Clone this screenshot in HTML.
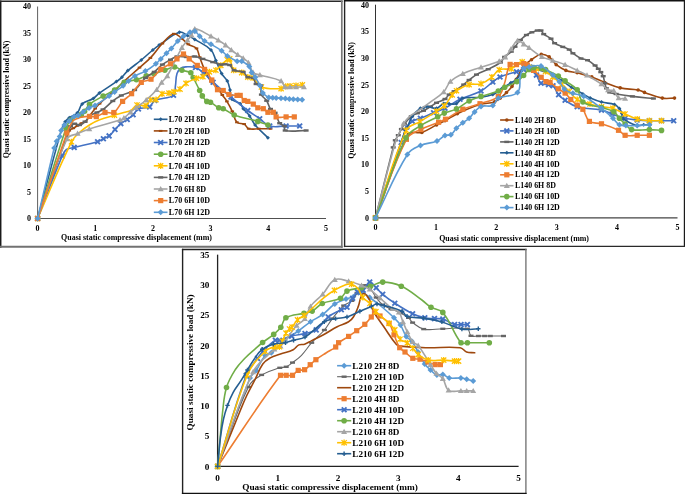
<!DOCTYPE html><html><head><meta charset="utf-8"><style>html,body{margin:0;padding:0;background:#fff;overflow:hidden;width:685px;height:494px;}svg{display:block;will-change:transform;filter:blur(0.35px);}</style></head><body><svg width="685" height="494" viewBox="0 0 685 494"><rect x="0" y="0" width="685" height="494" fill="#fff"/>
<line x1="0.7" y1="0.44999999999999996" x2="0.7" y2="247.75" stroke="#1a1a1a" stroke-width="1.5"/><line x1="-0.050000000000000044" y1="1.2" x2="342.65000000000003" y2="1.2" stroke="#2a2a2a" stroke-width="1.5"/><line x1="341.8" y1="0.44999999999999996" x2="341.8" y2="247.75" stroke="#777" stroke-width="1.7"/><line x1="-0.050000000000000044" y1="246.8" x2="342.65000000000003" y2="246.8" stroke="#727272" stroke-width="1.9"/><line x1="37.6" y1="6.5" x2="37.6" y2="218.5" stroke="#5f5f5f" stroke-width="1"/><line x1="37.6" y1="218.5" x2="326.0" y2="218.5" stroke="#505050" stroke-width="1.1"/><text x="31" y="221.3" font-size="8" text-anchor="end" font-family="Liberation Serif" font-weight="bold" fill="#000" >0</text><text x="31" y="194.8" font-size="8" text-anchor="end" font-family="Liberation Serif" font-weight="bold" fill="#000" >5</text><text x="31" y="168.3" font-size="8" text-anchor="end" font-family="Liberation Serif" font-weight="bold" fill="#000" >10</text><text x="31" y="141.8" font-size="8" text-anchor="end" font-family="Liberation Serif" font-weight="bold" fill="#000" >15</text><text x="31" y="115.3" font-size="8" text-anchor="end" font-family="Liberation Serif" font-weight="bold" fill="#000" >20</text><text x="31" y="88.8" font-size="8" text-anchor="end" font-family="Liberation Serif" font-weight="bold" fill="#000" >25</text><text x="31" y="62.3" font-size="8" text-anchor="end" font-family="Liberation Serif" font-weight="bold" fill="#000" >30</text><text x="31" y="35.8" font-size="8" text-anchor="end" font-family="Liberation Serif" font-weight="bold" fill="#000" >35</text><text x="31" y="9.3" font-size="8" text-anchor="end" font-family="Liberation Serif" font-weight="bold" fill="#000" >40</text><text x="37.6" y="230.9" font-size="8" text-anchor="middle" font-family="Liberation Serif" font-weight="bold" fill="#000" >0</text><text x="95.3" y="230.9" font-size="8" text-anchor="middle" font-family="Liberation Serif" font-weight="bold" fill="#000" >1</text><text x="153.0" y="230.9" font-size="8" text-anchor="middle" font-family="Liberation Serif" font-weight="bold" fill="#000" >2</text><text x="210.6" y="230.9" font-size="8" text-anchor="middle" font-family="Liberation Serif" font-weight="bold" fill="#000" >3</text><text x="268.3" y="230.9" font-size="8" text-anchor="middle" font-family="Liberation Serif" font-weight="bold" fill="#000" >4</text><text x="326.0" y="230.9" font-size="8" text-anchor="middle" font-family="Liberation Serif" font-weight="bold" fill="#000" >5</text><text x="136.5" y="240.0" font-size="8" text-anchor="middle" font-family="Liberation Serif" font-weight="bold" fill="#000" textLength="151" lengthAdjust="spacingAndGlyphs">Quasi static compressive displacement (mm)</text><g transform="translate(9.3,99.4) rotate(-90)"><text x="0" y="0" font-size="8" text-anchor="middle" font-family="Liberation Serif" font-weight="bold" fill="#000" textLength="117.5" lengthAdjust="spacingAndGlyphs">Quasi static compressive load (kN)</text></g><path d="M37.6,218.5 C47.0,183.3 51.2,165.6 61.2,130.6 C62.3,126.9 63.2,125.0 65.2,121.7 C66.4,119.8 67.5,119.0 69.3,117.7 C72.3,115.5 74.9,115.5 77.4,112.8 C80.1,109.9 79.3,106.5 82.2,103.9 C85.7,100.8 89.2,101.1 93.3,98.5 C96.0,96.8 96.8,95.0 99.4,93.1 C106.0,88.3 109.7,86.3 116.4,81.6 C118.7,80.0 119.9,79.2 121.9,77.3 C124.5,74.8 125.2,73.0 127.9,70.6 C133.0,66.1 136.0,64.4 141.3,60.0 C146.0,56.1 148.1,53.9 152.8,50.0 C155.3,47.9 156.5,46.9 159.2,45.1 C167.2,39.8 171.1,35.0 179.4,32.2 C182.4,31.2 184.4,33.9 187.5,35.4 C190.5,36.8 192.0,37.6 194.8,39.4 C201.4,43.5 205.7,44.7 211.0,50.0 C214.2,53.2 214.0,56.3 215.9,60.5 C218.2,65.7 218.9,68.6 221.6,73.5 C223.4,76.8 225.6,77.7 227.3,81.0 C229.0,84.3 229.1,86.4 230.0,90.0 C230.9,93.6 230.0,96.5 232.0,99.2 C234.0,101.9 237.4,101.4 240.2,103.7 C241.9,105.2 241.9,106.8 243.3,108.7 C245.6,111.7 247.4,112.8 249.6,115.9 C252.1,119.3 252.4,121.8 255.1,125.0 C259.7,130.5 262.8,132.7 267.9,137.8" stroke="#255E91" stroke-width="1.6" fill="none" stroke-linejoin="round" stroke-linecap="round"/><path d="M37.6,216.5 L39.6,218.5 L37.6,220.5 L35.6,218.5Z" fill="#255E91"/><path d="M61.2,128.6 L63.2,130.6 L61.2,132.6 L59.2,130.6Z" fill="#255E91"/><path d="M65.2,119.7 L67.2,121.7 L65.2,123.7 L63.2,121.7Z" fill="#255E91"/><path d="M69.3,115.7 L71.3,117.7 L69.3,119.7 L67.3,117.7Z" fill="#255E91"/><path d="M77.4,110.8 L79.4,112.8 L77.4,114.8 L75.4,112.8Z" fill="#255E91"/><path d="M82.2,101.9 L84.2,103.9 L82.2,105.9 L80.2,103.9Z" fill="#255E91"/><path d="M93.3,96.5 L95.3,98.5 L93.3,100.5 L91.3,98.5Z" fill="#255E91"/><path d="M99.4,91.1 L101.4,93.1 L99.4,95.1 L97.4,93.1Z" fill="#255E91"/><path d="M116.4,79.6 L118.4,81.6 L116.4,83.6 L114.4,81.6Z" fill="#255E91"/><path d="M121.9,75.3 L123.9,77.3 L121.9,79.3 L119.9,77.3Z" fill="#255E91"/><path d="M127.9,68.6 L129.9,70.6 L127.9,72.6 L125.9,70.6Z" fill="#255E91"/><path d="M141.3,58.0 L143.3,60.0 L141.3,62.0 L139.3,60.0Z" fill="#255E91"/><path d="M152.8,48.0 L154.8,50.0 L152.8,52.0 L150.8,50.0Z" fill="#255E91"/><path d="M159.2,43.1 L161.2,45.1 L159.2,47.1 L157.2,45.1Z" fill="#255E91"/><path d="M179.4,30.2 L181.4,32.2 L179.4,34.2 L177.4,32.2Z" fill="#255E91"/><path d="M187.5,33.4 L189.5,35.4 L187.5,37.4 L185.5,35.4Z" fill="#255E91"/><path d="M194.8,37.4 L196.8,39.4 L194.8,41.4 L192.8,39.4Z" fill="#255E91"/><path d="M211.0,48.0 L213.0,50.0 L211.0,52.0 L209.0,50.0Z" fill="#255E91"/><path d="M215.9,58.5 L217.9,60.5 L215.9,62.5 L213.9,60.5Z" fill="#255E91"/><path d="M221.6,71.5 L223.6,73.5 L221.6,75.5 L219.6,73.5Z" fill="#255E91"/><path d="M227.3,79.0 L229.3,81.0 L227.3,83.0 L225.3,81.0Z" fill="#255E91"/><path d="M230.0,88.0 L232.0,90.0 L230.0,92.0 L228.0,90.0Z" fill="#255E91"/><path d="M232.0,97.2 L234.0,99.2 L232.0,101.2 L230.0,99.2Z" fill="#255E91"/><path d="M240.2,101.7 L242.2,103.7 L240.2,105.7 L238.2,103.7Z" fill="#255E91"/><path d="M243.3,106.7 L245.3,108.7 L243.3,110.7 L241.3,108.7Z" fill="#255E91"/><path d="M249.6,113.9 L251.6,115.9 L249.6,117.9 L247.6,115.9Z" fill="#255E91"/><path d="M255.1,123.0 L257.1,125.0 L255.1,127.0 L253.1,125.0Z" fill="#255E91"/><path d="M267.9,135.8 L269.9,137.8 L267.9,139.8 L265.9,137.8Z" fill="#255E91"/><path d="M37.6,218.5 C50.3,183.3 55.7,165.0 69.3,130.6 C70.0,128.9 71.7,129.2 73.3,128.2 C74.9,127.2 75.8,126.7 77.4,125.7 C79.0,124.7 79.7,124.1 81.4,123.3 C83.0,122.5 84.2,122.8 85.5,121.7 C87.5,119.9 87.9,118.2 89.5,116.0 C91.7,113.0 92.8,111.4 95.2,108.5 C96.9,106.5 97.7,105.4 99.6,103.6 C106.2,97.5 109.8,94.8 116.4,88.8 C119.4,86.0 120.7,84.4 123.7,81.6 C129.9,75.9 133.2,73.2 139.5,67.6 C143.9,63.7 146.4,62.1 150.4,57.9 C155.6,52.5 157.2,48.9 162.4,43.5 C166.6,39.2 169.0,35.0 173.8,33.8 C176.8,33.0 178.9,36.4 181.9,38.6 C184.7,40.6 185.5,42.4 188.3,44.3 C191.3,46.3 194.3,45.8 196.5,48.4 C198.8,51.0 198.3,53.8 199.7,57.3 C202.2,63.8 203.3,67.2 206.2,73.5 C207.8,76.9 208.7,78.7 211.0,81.6 C213.2,84.5 215.2,85.2 217.5,88.0 C219.7,90.6 220.4,92.2 222.3,95.0 C224.1,97.6 225.3,98.7 226.9,101.4 C229.3,105.3 230.3,107.3 232.3,111.4 C234.3,115.7 234.0,119.2 236.9,122.3 C238.7,124.3 241.7,122.7 244.2,124.1 C246.4,125.3 246.4,128.0 248.7,128.7 C252.3,129.8 254.8,128.7 258.8,128.7 C263.5,128.7 265.9,128.7 270.6,128.7" stroke="#9E480E" stroke-width="1.6" fill="none" stroke-linejoin="round" stroke-linecap="round"/><rect x="35.8" y="217.5" width="3.6" height="2.0" fill="#9E480E"/><rect x="67.5" y="129.6" width="3.6" height="2.0" fill="#9E480E"/><rect x="71.5" y="127.2" width="3.6" height="2.0" fill="#9E480E"/><rect x="75.6" y="124.7" width="3.6" height="2.0" fill="#9E480E"/><rect x="79.6" y="122.3" width="3.6" height="2.0" fill="#9E480E"/><rect x="83.7" y="120.7" width="3.6" height="2.0" fill="#9E480E"/><rect x="87.7" y="115.0" width="3.6" height="2.0" fill="#9E480E"/><rect x="93.4" y="107.5" width="3.6" height="2.0" fill="#9E480E"/><rect x="97.8" y="102.6" width="3.6" height="2.0" fill="#9E480E"/><rect x="114.6" y="87.8" width="3.6" height="2.0" fill="#9E480E"/><rect x="121.9" y="80.6" width="3.6" height="2.0" fill="#9E480E"/><rect x="137.7" y="66.6" width="3.6" height="2.0" fill="#9E480E"/><rect x="148.6" y="56.9" width="3.6" height="2.0" fill="#9E480E"/><rect x="160.6" y="42.5" width="3.6" height="2.0" fill="#9E480E"/><rect x="172.0" y="32.8" width="3.6" height="2.0" fill="#9E480E"/><rect x="180.1" y="37.6" width="3.6" height="2.0" fill="#9E480E"/><rect x="186.5" y="43.3" width="3.6" height="2.0" fill="#9E480E"/><rect x="194.7" y="47.4" width="3.6" height="2.0" fill="#9E480E"/><rect x="197.9" y="56.3" width="3.6" height="2.0" fill="#9E480E"/><rect x="204.4" y="72.5" width="3.6" height="2.0" fill="#9E480E"/><rect x="209.2" y="80.6" width="3.6" height="2.0" fill="#9E480E"/><rect x="215.7" y="87.0" width="3.6" height="2.0" fill="#9E480E"/><rect x="220.5" y="94.0" width="3.6" height="2.0" fill="#9E480E"/><rect x="225.1" y="100.4" width="3.6" height="2.0" fill="#9E480E"/><rect x="230.5" y="110.4" width="3.6" height="2.0" fill="#9E480E"/><rect x="235.1" y="121.3" width="3.6" height="2.0" fill="#9E480E"/><rect x="242.4" y="123.1" width="3.6" height="2.0" fill="#9E480E"/><rect x="246.9" y="127.7" width="3.6" height="2.0" fill="#9E480E"/><rect x="257.0" y="127.7" width="3.6" height="2.0" fill="#9E480E"/><rect x="268.8" y="127.7" width="3.6" height="2.0" fill="#9E480E"/><path d="M37.6,218.5 C47.4,193.5 51.9,180.7 62.2,155.9 C63.4,153.1 64.1,151.2 66.4,149.5 C68.9,147.8 71.1,148.2 74.2,147.4 C83.5,145.1 88.4,144.4 97.6,141.7 C100.1,141.0 101.1,139.9 103.4,138.7 C105.7,137.6 107.1,137.5 109.1,135.9 C111.8,133.8 112.6,132.0 115.0,129.5 C117.3,127.1 118.3,125.7 120.8,123.6 C123.1,121.7 124.7,121.3 127.2,119.5 C129.7,117.7 130.9,116.9 133.1,114.8 C135.4,112.6 135.7,110.2 138.4,108.9 C142.3,107.0 145.8,108.9 149.6,106.9 C152.4,105.5 151.9,101.8 154.8,100.4 C161.5,97.2 168.0,99.2 173.5,95.3 C176.2,93.4 174.8,89.7 175.4,86.0 C176.2,81.0 175.6,78.2 177.0,73.5 C177.7,71.2 178.6,69.9 180.5,68.5 C182.2,67.2 183.7,67.1 186.0,66.9 C189.7,66.7 192.0,66.3 195.5,67.5 C199.0,68.7 200.5,70.5 203.4,73.0 C207.5,76.4 209.2,78.6 213.1,82.2 C216.6,85.4 218.4,87.0 222.0,90.0 C225.5,92.9 227.4,94.2 231.0,97.0 C237.7,102.4 240.9,105.3 247.8,110.5 C252.4,114.0 255.0,115.4 259.7,118.7 C263.7,121.6 265.2,124.7 269.7,126.0 C275.7,127.7 279.5,126.0 286.1,126.0 C291.5,126.0 294.3,126.0 299.7,126.0" stroke="#4472C4" stroke-width="1.6" fill="none" stroke-linejoin="round" stroke-linecap="round"/><path d="M35.2,216.1 L40.0,220.9 M40.0,216.1 L35.2,220.9" stroke="#4472C4" stroke-width="1.9" fill="none"/><path d="M59.8,153.5 L64.6,158.3 M64.6,153.5 L59.8,158.3" stroke="#4472C4" stroke-width="1.9" fill="none"/><path d="M71.8,145.0 L76.6,149.8 M76.6,145.0 L71.8,149.8" stroke="#4472C4" stroke-width="1.9" fill="none"/><path d="M95.2,139.3 L100.0,144.1 M100.0,139.3 L95.2,144.1" stroke="#4472C4" stroke-width="1.9" fill="none"/><path d="M101.0,136.3 L105.8,141.1 M105.8,136.3 L101.0,141.1" stroke="#4472C4" stroke-width="1.9" fill="none"/><path d="M106.7,133.5 L111.5,138.3 M111.5,133.5 L106.7,138.3" stroke="#4472C4" stroke-width="1.9" fill="none"/><path d="M112.6,127.1 L117.4,131.9 M117.4,127.1 L112.6,131.9" stroke="#4472C4" stroke-width="1.9" fill="none"/><path d="M118.4,121.2 L123.2,126.0 M123.2,121.2 L118.4,126.0" stroke="#4472C4" stroke-width="1.9" fill="none"/><path d="M124.8,117.1 L129.6,121.9 M129.6,117.1 L124.8,121.9" stroke="#4472C4" stroke-width="1.9" fill="none"/><path d="M130.7,112.4 L135.5,117.2 M135.5,112.4 L130.7,117.2" stroke="#4472C4" stroke-width="1.9" fill="none"/><path d="M136.0,106.5 L140.8,111.3 M140.8,106.5 L136.0,111.3" stroke="#4472C4" stroke-width="1.9" fill="none"/><path d="M147.2,104.5 L152.0,109.3 M152.0,104.5 L147.2,109.3" stroke="#4472C4" stroke-width="1.9" fill="none"/><path d="M152.4,98.0 L157.2,102.8 M157.2,98.0 L152.4,102.8" stroke="#4472C4" stroke-width="1.9" fill="none"/><path d="M171.1,92.9 L175.9,97.7 M175.9,92.9 L171.1,97.7" stroke="#4472C4" stroke-width="1.9" fill="none"/><path d="M193.1,65.1 L197.9,69.9 M197.9,65.1 L193.1,69.9" stroke="#4472C4" stroke-width="1.9" fill="none"/><path d="M201.0,70.6 L205.8,75.4 M205.8,70.6 L201.0,75.4" stroke="#4472C4" stroke-width="1.9" fill="none"/><path d="M210.7,79.8 L215.5,84.6 M215.5,79.8 L210.7,84.6" stroke="#4472C4" stroke-width="1.9" fill="none"/><path d="M228.6,94.6 L233.4,99.4 M233.4,94.6 L228.6,99.4" stroke="#4472C4" stroke-width="1.9" fill="none"/><path d="M245.4,108.1 L250.2,112.9 M250.2,108.1 L245.4,112.9" stroke="#4472C4" stroke-width="1.9" fill="none"/><path d="M257.3,116.3 L262.1,121.1 M262.1,116.3 L257.3,121.1" stroke="#4472C4" stroke-width="1.9" fill="none"/><path d="M267.3,123.6 L272.1,128.4 M272.1,123.6 L267.3,128.4" stroke="#4472C4" stroke-width="1.9" fill="none"/><path d="M283.7,123.6 L288.5,128.4 M288.5,123.6 L283.7,128.4" stroke="#4472C4" stroke-width="1.9" fill="none"/><path d="M297.3,123.6 L302.1,128.4 M302.1,123.6 L297.3,128.4" stroke="#4472C4" stroke-width="1.9" fill="none"/><path d="M37.6,218.5 C49.0,182.4 53.9,164.0 66.0,128.2 C67.2,124.6 68.2,122.5 70.9,120.1 C74.3,117.0 77.4,117.0 81.4,114.4 C82.9,113.4 83.5,112.6 84.6,111.2 C86.7,108.6 86.9,106.4 89.5,104.3 C94.3,100.4 97.6,99.2 103.1,96.1 C107.6,93.5 110.3,92.8 114.6,90.0 C118.7,87.3 119.9,84.3 124.3,82.2 C128.6,80.1 131.7,81.1 136.4,79.7 C140.4,78.5 142.2,77.3 146.2,75.9 C149.3,74.9 150.9,74.6 154.0,73.7 C158.3,72.4 160.5,71.6 164.8,70.2 C168.7,68.9 170.7,67.0 174.6,67.0 C177.6,67.0 178.9,69.1 181.9,70.2 C185.4,71.4 187.9,70.9 190.8,72.7 C192.5,73.8 192.2,75.6 193.2,77.5 C195.8,82.7 197.1,85.3 199.7,90.5 C200.8,92.6 201.0,93.9 202.3,95.9 C203.8,98.3 204.7,99.7 206.8,101.4 C207.9,102.3 209.2,101.6 210.5,102.3 C213.9,104.1 215.2,106.1 218.7,107.8 C220.3,108.6 221.6,107.9 223.2,108.7 C227.8,110.8 229.5,113.3 234.2,115.0 C243.3,118.3 248.4,118.6 257.8,121.4 C261.9,122.6 263.9,123.6 267.9,125.0" stroke="#70AD47" stroke-width="1.6" fill="none" stroke-linejoin="round" stroke-linecap="round"/><circle cx="37.6" cy="218.5" r="2.8" fill="#70AD47"/><circle cx="66.0" cy="128.2" r="2.8" fill="#70AD47"/><circle cx="70.9" cy="120.1" r="2.8" fill="#70AD47"/><circle cx="81.4" cy="114.4" r="2.8" fill="#70AD47"/><circle cx="84.6" cy="111.2" r="2.8" fill="#70AD47"/><circle cx="89.5" cy="104.3" r="2.8" fill="#70AD47"/><circle cx="103.1" cy="96.1" r="2.8" fill="#70AD47"/><circle cx="114.6" cy="90.0" r="2.8" fill="#70AD47"/><circle cx="124.3" cy="82.2" r="2.8" fill="#70AD47"/><circle cx="136.4" cy="79.7" r="2.8" fill="#70AD47"/><circle cx="146.2" cy="75.9" r="2.8" fill="#70AD47"/><circle cx="154.0" cy="73.7" r="2.8" fill="#70AD47"/><circle cx="164.8" cy="70.2" r="2.8" fill="#70AD47"/><circle cx="174.6" cy="67.0" r="2.8" fill="#70AD47"/><circle cx="181.9" cy="70.2" r="2.8" fill="#70AD47"/><circle cx="190.8" cy="72.7" r="2.8" fill="#70AD47"/><circle cx="193.2" cy="77.5" r="2.8" fill="#70AD47"/><circle cx="199.7" cy="90.5" r="2.8" fill="#70AD47"/><circle cx="202.3" cy="95.9" r="2.8" fill="#70AD47"/><circle cx="206.8" cy="101.4" r="2.8" fill="#70AD47"/><circle cx="210.5" cy="102.3" r="2.8" fill="#70AD47"/><circle cx="218.7" cy="107.8" r="2.8" fill="#70AD47"/><circle cx="223.2" cy="108.7" r="2.8" fill="#70AD47"/><circle cx="234.2" cy="115.0" r="2.8" fill="#70AD47"/><circle cx="257.8" cy="121.4" r="2.8" fill="#70AD47"/><circle cx="267.9" cy="125.0" r="2.8" fill="#70AD47"/><path d="M37.6,218.5 C51.2,187.8 56.8,171.8 71.5,141.8 C73.8,137.2 76.2,135.5 80.0,132.0 C83.6,128.7 85.7,127.3 89.8,124.7 C93.5,122.4 95.6,121.4 99.7,119.8 C105.4,117.6 108.5,117.0 114.4,115.2 C119.0,113.8 121.4,113.3 126.0,112.0 C128.0,111.4 129.3,111.6 131.0,110.5 C133.7,108.8 134.2,105.9 137.0,105.0 C140.2,104.0 143.1,106.8 146.0,105.6 C148.4,104.7 148.0,101.0 150.2,99.7 C152.0,98.7 154.1,100.7 156.0,99.7 C158.8,98.3 159.2,95.2 162.0,93.8 C164.4,92.6 166.2,93.6 169.0,93.1 C171.0,92.8 172.1,92.5 174.0,91.8 C176.5,90.9 177.9,90.7 180.0,89.2 C182.7,87.3 183.2,85.1 186.0,83.3 C189.8,80.8 192.2,80.0 196.5,78.3 C198.9,77.3 200.6,77.9 202.9,76.7 C205.7,75.3 206.6,73.3 209.4,71.9 C211.8,70.7 213.6,71.5 215.9,70.2 C218.2,68.9 218.8,67.3 220.8,65.4 C223.3,63.1 224.5,61.7 227.2,59.7 C228.0,59.1 229.2,58.1 229.7,58.9 C231.8,62.3 230.9,67.0 233.7,70.2 C235.7,72.5 238.8,71.1 241.7,72.6 C244.4,73.9 245.1,76.0 247.8,77.2 C249.7,78.1 251.5,76.7 253.1,77.9 C256.9,80.6 257.1,85.4 261.4,87.0 C268.3,89.6 273.4,88.8 281.1,88.6 C283.1,88.5 283.8,86.9 285.7,86.3 C287.3,85.8 288.3,86.1 290.0,86.0 C292.4,85.8 293.6,85.7 296.0,85.5 C298.6,85.3 299.8,85.1 302.4,84.8" stroke="#FFC000" stroke-width="1.6" fill="none" stroke-linejoin="round" stroke-linecap="round"/><path d="M35.0,215.9 L40.2,221.1 M40.2,215.9 L35.0,221.1 M37.6,215.4 L37.6,221.6" stroke="#FFC000" stroke-width="1.3" fill="none"/><path d="M68.9,139.2 L74.1,144.4 M74.1,139.2 L68.9,144.4 M71.5,138.7 L71.5,144.9" stroke="#FFC000" stroke-width="1.3" fill="none"/><path d="M111.8,112.6 L117.0,117.8 M117.0,112.6 L111.8,117.8 M114.4,112.1 L114.4,118.3" stroke="#FFC000" stroke-width="1.3" fill="none"/><path d="M134.4,102.4 L139.6,107.6 M139.6,102.4 L134.4,107.6 M137.0,101.9 L137.0,108.1" stroke="#FFC000" stroke-width="1.3" fill="none"/><path d="M143.4,103.0 L148.6,108.2 M148.6,103.0 L143.4,108.2 M146.0,102.5 L146.0,108.7" stroke="#FFC000" stroke-width="1.3" fill="none"/><path d="M147.6,97.1 L152.8,102.3 M152.8,97.1 L147.6,102.3 M150.2,96.6 L150.2,102.8" stroke="#FFC000" stroke-width="1.3" fill="none"/><path d="M153.4,97.1 L158.6,102.3 M158.6,97.1 L153.4,102.3 M156.0,96.6 L156.0,102.8" stroke="#FFC000" stroke-width="1.3" fill="none"/><path d="M159.4,91.2 L164.6,96.4 M164.6,91.2 L159.4,96.4 M162.0,90.7 L162.0,96.9" stroke="#FFC000" stroke-width="1.3" fill="none"/><path d="M166.4,90.5 L171.6,95.7 M171.6,90.5 L166.4,95.7 M169.0,90.0 L169.0,96.2" stroke="#FFC000" stroke-width="1.3" fill="none"/><path d="M171.4,89.2 L176.6,94.4 M176.6,89.2 L171.4,94.4 M174.0,88.7 L174.0,94.9" stroke="#FFC000" stroke-width="1.3" fill="none"/><path d="M177.4,86.6 L182.6,91.8 M182.6,86.6 L177.4,91.8 M180.0,86.1 L180.0,92.3" stroke="#FFC000" stroke-width="1.3" fill="none"/><path d="M183.4,80.7 L188.6,85.9 M188.6,80.7 L183.4,85.9 M186.0,80.2 L186.0,86.4" stroke="#FFC000" stroke-width="1.3" fill="none"/><path d="M193.9,75.7 L199.1,80.9 M199.1,75.7 L193.9,80.9 M196.5,75.2 L196.5,81.4" stroke="#FFC000" stroke-width="1.3" fill="none"/><path d="M200.3,74.1 L205.5,79.3 M205.5,74.1 L200.3,79.3 M202.9,73.6 L202.9,79.8" stroke="#FFC000" stroke-width="1.3" fill="none"/><path d="M206.8,69.3 L212.0,74.5 M212.0,69.3 L206.8,74.5 M209.4,68.8 L209.4,75.0" stroke="#FFC000" stroke-width="1.3" fill="none"/><path d="M213.3,67.6 L218.5,72.8 M218.5,67.6 L213.3,72.8 M215.9,67.1 L215.9,73.3" stroke="#FFC000" stroke-width="1.3" fill="none"/><path d="M218.2,62.8 L223.4,68.0 M223.4,62.8 L218.2,68.0 M220.8,62.3 L220.8,68.5" stroke="#FFC000" stroke-width="1.3" fill="none"/><path d="M224.6,57.1 L229.8,62.3 M229.8,57.1 L224.6,62.3 M227.2,56.6 L227.2,62.8" stroke="#FFC000" stroke-width="1.3" fill="none"/><path d="M227.1,56.3 L232.3,61.5 M232.3,56.3 L227.1,61.5 M229.7,55.8 L229.7,62.0" stroke="#FFC000" stroke-width="1.3" fill="none"/><path d="M231.1,67.6 L236.3,72.8 M236.3,67.6 L231.1,72.8 M233.7,67.1 L233.7,73.3" stroke="#FFC000" stroke-width="1.3" fill="none"/><path d="M239.1,70.0 L244.3,75.2 M244.3,70.0 L239.1,75.2 M241.7,69.5 L241.7,75.7" stroke="#FFC000" stroke-width="1.3" fill="none"/><path d="M245.2,74.6 L250.4,79.8 M250.4,74.6 L245.2,79.8 M247.8,74.1 L247.8,80.3" stroke="#FFC000" stroke-width="1.3" fill="none"/><path d="M250.5,75.3 L255.7,80.5 M255.7,75.3 L250.5,80.5 M253.1,74.8 L253.1,81.0" stroke="#FFC000" stroke-width="1.3" fill="none"/><path d="M258.8,84.4 L264.0,89.6 M264.0,84.4 L258.8,89.6 M261.4,83.9 L261.4,90.1" stroke="#FFC000" stroke-width="1.3" fill="none"/><path d="M278.5,86.0 L283.7,91.2 M283.7,86.0 L278.5,91.2 M281.1,85.5 L281.1,91.7" stroke="#FFC000" stroke-width="1.3" fill="none"/><path d="M283.1,83.7 L288.3,88.9 M288.3,83.7 L283.1,88.9 M285.7,83.2 L285.7,89.4" stroke="#FFC000" stroke-width="1.3" fill="none"/><path d="M287.4,83.4 L292.6,88.6 M292.6,83.4 L287.4,88.6 M290.0,82.9 L290.0,89.1" stroke="#FFC000" stroke-width="1.3" fill="none"/><path d="M293.4,82.9 L298.6,88.1 M298.6,82.9 L293.4,88.1 M296.0,82.4 L296.0,88.6" stroke="#FFC000" stroke-width="1.3" fill="none"/><path d="M299.8,82.2 L305.0,87.4 M305.0,82.2 L299.8,87.4 M302.4,81.7 L302.4,87.9" stroke="#FFC000" stroke-width="1.3" fill="none"/><path d="M37.6,218.5 C50.8,181.6 56.5,162.4 70.6,126.2 C71.3,124.5 72.9,123.9 74.6,123.7 C76.4,123.5 77.7,125.4 79.5,125.0 C81.8,124.6 83.1,123.4 85.0,121.7 C87.4,119.6 87.8,117.4 90.3,115.5 C92.5,113.8 94.3,113.7 96.9,112.5 C99.4,111.3 100.8,111.1 103.0,109.5 C107.2,106.5 108.7,104.1 112.8,101.0 C116.0,98.5 117.7,97.3 121.3,95.5 C126.4,92.9 130.1,93.3 134.6,90.0 C139.7,86.3 140.7,82.3 145.5,77.9 C148.6,75.0 151.0,74.5 154.3,71.9 C157.7,69.2 158.9,67.2 162.4,64.6 C165.4,62.3 167.2,61.5 170.5,59.7 C173.0,58.3 174.2,57.0 177.0,56.5 C180.7,55.9 182.8,57.0 186.7,57.0 C189.9,57.0 191.6,56.1 194.8,56.5 C198.1,56.9 199.7,57.9 202.9,58.9 C206.8,60.1 208.8,60.8 212.7,62.1 C215.9,63.1 217.5,64.0 220.8,64.6 C222.4,64.9 223.3,64.2 225.0,64.3 C226.8,64.4 228.1,64.0 229.6,65.0 C231.8,66.4 231.8,69.1 234.1,70.3 C237.2,71.9 240.1,70.3 243.2,71.9 C245.6,73.1 245.6,75.8 247.8,77.2 C249.5,78.2 251.6,76.7 253.1,77.9 C255.0,79.4 254.3,82.2 256.1,84.0 C257.4,85.3 260.0,84.0 260.7,85.5 C262.1,88.3 260.1,91.4 261.4,94.6 C262.5,97.5 265.0,98.0 266.7,100.7 C268.6,103.8 268.5,106.1 270.5,109.0 C271.8,110.9 273.8,110.8 275.1,112.8 C277.5,116.5 277.2,119.6 279.7,123.2 C280.9,124.9 283.1,124.4 284.3,126.0 C285.3,127.3 283.6,130.2 285.2,130.5 C292.4,132.0 297.7,130.5 306.1,130.5" stroke="#636363" stroke-width="1.6" fill="none" stroke-linejoin="round" stroke-linecap="round"/><rect x="35.1" y="217.3" width="5.0" height="2.4" fill="#636363"/><rect x="68.1" y="125.0" width="5.0" height="2.4" fill="#636363"/><rect x="72.1" y="122.5" width="5.0" height="2.4" fill="#636363"/><rect x="77.0" y="123.8" width="5.0" height="2.4" fill="#636363"/><rect x="82.5" y="120.5" width="5.0" height="2.4" fill="#636363"/><rect x="94.4" y="111.3" width="5.0" height="2.4" fill="#636363"/><rect x="100.5" y="108.3" width="5.0" height="2.4" fill="#636363"/><rect x="110.3" y="99.8" width="5.0" height="2.4" fill="#636363"/><rect x="118.8" y="94.3" width="5.0" height="2.4" fill="#636363"/><rect x="132.1" y="88.8" width="5.0" height="2.4" fill="#636363"/><rect x="143.0" y="76.7" width="5.0" height="2.4" fill="#636363"/><rect x="151.8" y="70.7" width="5.0" height="2.4" fill="#636363"/><rect x="159.9" y="63.4" width="5.0" height="2.4" fill="#636363"/><rect x="168.0" y="58.5" width="5.0" height="2.4" fill="#636363"/><rect x="174.5" y="55.3" width="5.0" height="2.4" fill="#636363"/><rect x="184.2" y="55.8" width="5.0" height="2.4" fill="#636363"/><rect x="192.3" y="55.3" width="5.0" height="2.4" fill="#636363"/><rect x="200.4" y="57.7" width="5.0" height="2.4" fill="#636363"/><rect x="210.2" y="60.9" width="5.0" height="2.4" fill="#636363"/><rect x="218.3" y="63.4" width="5.0" height="2.4" fill="#636363"/><rect x="222.5" y="63.1" width="5.0" height="2.4" fill="#636363"/><rect x="227.1" y="63.8" width="5.0" height="2.4" fill="#636363"/><rect x="231.6" y="69.1" width="5.0" height="2.4" fill="#636363"/><rect x="240.7" y="70.7" width="5.0" height="2.4" fill="#636363"/><rect x="245.3" y="76.0" width="5.0" height="2.4" fill="#636363"/><rect x="250.6" y="76.7" width="5.0" height="2.4" fill="#636363"/><rect x="253.6" y="82.8" width="5.0" height="2.4" fill="#636363"/><rect x="258.2" y="84.3" width="5.0" height="2.4" fill="#636363"/><rect x="258.9" y="93.4" width="5.0" height="2.4" fill="#636363"/><rect x="264.2" y="99.5" width="5.0" height="2.4" fill="#636363"/><rect x="268.0" y="107.8" width="5.0" height="2.4" fill="#636363"/><rect x="272.6" y="111.6" width="5.0" height="2.4" fill="#636363"/><rect x="277.2" y="122.0" width="5.0" height="2.4" fill="#636363"/><rect x="281.8" y="124.8" width="5.0" height="2.4" fill="#636363"/><rect x="282.7" y="129.3" width="5.0" height="2.4" fill="#636363"/><rect x="303.6" y="129.3" width="5.0" height="2.4" fill="#636363"/><path d="M37.6,218.5 C49.4,186.7 53.0,168.8 67.0,139.0 C69.0,134.8 73.3,135.5 77.6,133.5 C82.2,131.4 84.5,130.4 89.3,128.9 C101.5,125.1 107.8,123.9 120.0,120.1 C121.7,119.6 122.5,119.1 123.9,118.1 C126.7,116.0 127.8,114.5 130.5,112.2 C132.6,110.4 133.8,109.5 136.0,107.8 C140.1,104.6 142.3,103.4 146.2,100.0 C150.6,96.1 152.8,94.1 156.7,89.7 C159.0,87.1 159.5,85.2 161.6,82.4 C163.7,79.7 165.6,78.9 167.3,75.9 C173.7,65.0 175.6,58.6 181.9,47.6 C183.7,44.4 185.2,43.2 187.5,40.3 C189.1,38.3 190.2,37.5 191.6,35.4 C193.2,33.0 192.6,28.8 194.8,28.9 C200.3,29.1 204.6,33.1 211.0,36.2 C214.0,37.7 215.4,38.6 218.3,40.3 C221.3,42.1 222.8,43.0 225.6,45.1 C228.0,46.9 228.9,48.1 231.3,50.0 C233.8,52.0 235.1,53.0 237.8,54.8 C239.9,56.2 241.2,56.7 243.2,58.2 C245.4,59.9 246.9,60.5 248.5,62.8 C250.9,66.3 250.4,69.7 253.1,72.6 C254.9,74.5 257.2,74.1 259.9,74.9 C268.4,77.4 273.5,77.3 281.1,81.0 C283.5,82.2 282.8,85.6 284.9,87.0 C286.4,88.0 288.0,87.0 290.0,87.0 C292.4,87.0 293.6,87.0 296.0,87.0 C299.2,87.0 300.7,87.0 303.9,87.0" stroke="#A5A5A5" stroke-width="1.6" fill="none" stroke-linejoin="round" stroke-linecap="round"/><path d="M37.6,215.5 L40.6,220.8 L34.6,220.8Z" fill="#A5A5A5"/><path d="M67.0,136.0 L70.0,141.2 L64.0,141.2Z" fill="#A5A5A5"/><path d="M77.6,130.5 L80.6,135.8 L74.6,135.8Z" fill="#A5A5A5"/><path d="M89.3,125.9 L92.3,131.2 L86.3,131.2Z" fill="#A5A5A5"/><path d="M120.0,117.1 L123.0,122.3 L117.0,122.3Z" fill="#A5A5A5"/><path d="M123.9,115.1 L126.9,120.3 L120.9,120.3Z" fill="#A5A5A5"/><path d="M130.5,109.2 L133.5,114.5 L127.5,114.5Z" fill="#A5A5A5"/><path d="M136.0,104.8 L139.0,110.0 L133.0,110.0Z" fill="#A5A5A5"/><path d="M146.2,97.0 L149.2,102.2 L143.2,102.2Z" fill="#A5A5A5"/><path d="M156.7,86.7 L159.7,92.0 L153.7,92.0Z" fill="#A5A5A5"/><path d="M161.6,79.4 L164.6,84.7 L158.6,84.7Z" fill="#A5A5A5"/><path d="M167.3,72.9 L170.3,78.2 L164.3,78.2Z" fill="#A5A5A5"/><path d="M181.9,44.6 L184.9,49.9 L178.9,49.9Z" fill="#A5A5A5"/><path d="M187.5,37.3 L190.5,42.5 L184.5,42.5Z" fill="#A5A5A5"/><path d="M191.6,32.4 L194.6,37.6 L188.6,37.6Z" fill="#A5A5A5"/><path d="M194.8,25.9 L197.8,31.1 L191.8,31.1Z" fill="#A5A5A5"/><path d="M211.0,33.2 L214.0,38.5 L208.0,38.5Z" fill="#A5A5A5"/><path d="M218.3,37.3 L221.3,42.5 L215.3,42.5Z" fill="#A5A5A5"/><path d="M225.6,42.1 L228.6,47.4 L222.6,47.4Z" fill="#A5A5A5"/><path d="M231.3,47.0 L234.3,52.2 L228.3,52.2Z" fill="#A5A5A5"/><path d="M237.8,51.8 L240.8,57.0 L234.8,57.0Z" fill="#A5A5A5"/><path d="M243.2,55.2 L246.2,60.5 L240.2,60.5Z" fill="#A5A5A5"/><path d="M248.5,59.8 L251.5,65.0 L245.5,65.0Z" fill="#A5A5A5"/><path d="M253.1,69.6 L256.1,74.8 L250.1,74.8Z" fill="#A5A5A5"/><path d="M259.9,71.9 L262.9,77.2 L256.9,77.2Z" fill="#A5A5A5"/><path d="M281.1,78.0 L284.1,83.2 L278.1,83.2Z" fill="#A5A5A5"/><path d="M284.9,84.0 L287.9,89.2 L281.9,89.2Z" fill="#A5A5A5"/><path d="M290.0,84.0 L293.0,89.2 L287.0,89.2Z" fill="#A5A5A5"/><path d="M296.0,84.0 L299.0,89.2 L293.0,89.2Z" fill="#A5A5A5"/><path d="M303.9,84.0 L306.9,89.2 L300.9,89.2Z" fill="#A5A5A5"/><path d="M37.6,218.5 C49.3,184.3 54.9,167.1 66.8,133.0 C67.9,130.0 68.6,128.5 70.1,125.7 C71.2,123.5 71.6,122.1 73.3,120.5 C74.5,119.3 75.7,119.2 77.4,118.5 C79.0,117.9 79.8,117.5 81.4,117.2 C84.6,116.6 86.3,116.5 89.5,116.4 C92.2,116.3 93.7,117.2 96.3,116.6 C99.9,115.7 101.3,113.4 105.0,112.5 C108.3,111.7 111.1,114.2 113.8,112.5 C118.1,109.8 118.7,105.5 122.6,101.4 C125.8,98.0 128.3,97.1 131.6,93.7 C135.8,89.5 136.7,85.8 141.3,82.4 C144.5,80.0 147.7,81.4 151.0,79.2 C155.5,76.2 156.5,72.8 160.8,69.4 C164.3,66.6 166.7,66.2 170.5,63.8 C173.2,62.0 174.4,60.9 177.0,58.9 C179.6,56.9 181.0,54.0 183.5,54.0 C185.8,54.0 186.9,57.0 189.2,58.9 C192.4,61.5 193.9,63.1 197.3,65.4 C200.0,67.3 202.3,67.1 204.6,69.4 C208.1,72.9 209.1,75.7 211.8,80.0 C214.2,83.8 214.5,86.9 217.5,89.7 C219.0,91.1 221.1,89.6 223.2,90.5 C225.7,91.6 226.4,93.6 228.9,94.5 C231.9,95.6 233.8,95.1 237.0,95.4 C238.3,95.5 239.2,94.7 240.2,95.4 C242.1,96.8 242.3,99.0 244.2,100.5 C245.3,101.4 246.4,100.9 247.8,101.4 C250.1,102.3 251.2,102.8 253.3,104.1 C255.2,105.3 255.8,106.9 257.8,107.8 C259.8,108.7 261.3,107.8 263.3,108.7 C265.4,109.6 265.8,111.6 267.9,112.3 C269.8,113.0 271.7,111.4 273.3,112.3 C274.9,113.2 274.3,116.3 276.1,116.9 C279.4,118.1 282.1,116.9 286.1,116.9 C289.4,116.9 291.0,116.9 294.3,116.9" stroke="#ED7D31" stroke-width="1.6" fill="none" stroke-linejoin="round" stroke-linecap="round"/><rect x="35.0" y="215.9" width="5.2" height="5.2" fill="#ED7D31"/><rect x="64.2" y="130.4" width="5.2" height="5.2" fill="#ED7D31"/><rect x="86.9" y="113.8" width="5.2" height="5.2" fill="#ED7D31"/><rect x="93.7" y="114.0" width="5.2" height="5.2" fill="#ED7D31"/><rect x="102.4" y="109.9" width="5.2" height="5.2" fill="#ED7D31"/><rect x="111.2" y="109.9" width="5.2" height="5.2" fill="#ED7D31"/><rect x="120.0" y="98.8" width="5.2" height="5.2" fill="#ED7D31"/><rect x="129.0" y="91.1" width="5.2" height="5.2" fill="#ED7D31"/><rect x="138.7" y="79.8" width="5.2" height="5.2" fill="#ED7D31"/><rect x="148.4" y="76.6" width="5.2" height="5.2" fill="#ED7D31"/><rect x="158.2" y="66.8" width="5.2" height="5.2" fill="#ED7D31"/><rect x="167.9" y="61.2" width="5.2" height="5.2" fill="#ED7D31"/><rect x="174.4" y="56.3" width="5.2" height="5.2" fill="#ED7D31"/><rect x="180.9" y="51.4" width="5.2" height="5.2" fill="#ED7D31"/><rect x="186.6" y="56.3" width="5.2" height="5.2" fill="#ED7D31"/><rect x="194.7" y="62.8" width="5.2" height="5.2" fill="#ED7D31"/><rect x="202.0" y="66.8" width="5.2" height="5.2" fill="#ED7D31"/><rect x="209.2" y="77.4" width="5.2" height="5.2" fill="#ED7D31"/><rect x="214.9" y="87.1" width="5.2" height="5.2" fill="#ED7D31"/><rect x="220.6" y="87.9" width="5.2" height="5.2" fill="#ED7D31"/><rect x="226.3" y="91.9" width="5.2" height="5.2" fill="#ED7D31"/><rect x="234.4" y="92.8" width="5.2" height="5.2" fill="#ED7D31"/><rect x="237.6" y="92.8" width="5.2" height="5.2" fill="#ED7D31"/><rect x="241.6" y="97.9" width="5.2" height="5.2" fill="#ED7D31"/><rect x="245.2" y="98.8" width="5.2" height="5.2" fill="#ED7D31"/><rect x="250.7" y="101.5" width="5.2" height="5.2" fill="#ED7D31"/><rect x="255.2" y="105.2" width="5.2" height="5.2" fill="#ED7D31"/><rect x="260.7" y="106.1" width="5.2" height="5.2" fill="#ED7D31"/><rect x="265.3" y="109.7" width="5.2" height="5.2" fill="#ED7D31"/><rect x="270.7" y="109.7" width="5.2" height="5.2" fill="#ED7D31"/><rect x="273.5" y="114.3" width="5.2" height="5.2" fill="#ED7D31"/><rect x="283.5" y="114.3" width="5.2" height="5.2" fill="#ED7D31"/><rect x="291.7" y="114.3" width="5.2" height="5.2" fill="#ED7D31"/><path d="M37.6,218.5 C44.2,190.3 47.3,176.1 54.2,147.9 C54.9,145.2 55.4,143.8 56.6,141.3 C57.6,139.2 58.8,138.5 59.7,136.4 C60.6,134.2 60.3,132.8 61.2,130.6 C62.2,128.2 62.8,126.9 64.4,124.9 C66.0,123.0 67.4,122.6 69.3,120.9 C71.3,119.2 71.9,117.7 74.1,116.4 C75.5,115.6 76.7,116.3 78.2,115.6 C80.3,114.6 81.0,113.4 83.0,112.0 C85.4,110.3 86.5,109.4 89.0,108.0 C91.3,106.8 92.8,106.8 95.0,105.5 C100.8,102.1 103.5,100.0 109.1,96.1 C111.4,94.5 112.4,93.5 114.6,91.9 C118.0,89.4 119.8,88.4 123.1,85.8 C125.4,84.0 126.3,82.8 128.5,80.9 C131.0,78.8 132.1,77.5 134.9,75.9 C138.9,73.6 141.4,73.4 145.4,71.1 C149.8,68.6 151.9,67.0 155.9,63.8 C158.1,62.1 158.8,60.9 160.8,58.9 C163.1,56.6 164.2,55.5 166.5,53.2 C168.4,51.3 169.4,50.4 171.3,48.4 C174.0,45.5 175.0,43.9 177.8,41.1 C179.9,39.0 181.1,38.0 183.5,36.2 C186.0,34.4 187.2,33.4 190.0,32.2 C191.8,31.4 193.2,30.6 194.8,31.3 C197.1,32.2 197.7,34.2 199.7,36.2 C201.7,38.2 202.4,39.5 204.6,41.1 C206.9,42.7 208.5,42.9 211.0,44.3 C215.3,46.8 217.6,47.9 221.6,50.8 C224.1,52.6 224.8,54.2 227.3,55.9 C231.0,58.4 233.0,59.7 237.1,61.2 C238.8,61.8 240.1,60.5 241.7,61.2 C245.0,62.6 247.0,63.9 249.3,66.6 C250.9,68.5 250.3,70.4 251.6,72.6 C252.7,74.6 254.0,75.2 255.3,77.2 C257.3,80.4 258.3,82.1 259.9,85.5 C261.3,88.4 261.0,90.6 262.9,93.1 C264.6,95.3 266.2,96.2 268.8,97.4 C270.2,98.1 271.1,97.7 272.7,97.8 C274.1,97.9 274.8,97.9 276.2,98.0 C278.1,98.1 279.1,98.2 281.0,98.3 C282.8,98.4 283.6,98.5 285.4,98.6 C287.0,98.7 287.8,98.8 289.4,98.9 C291.0,99.0 291.7,99.1 293.3,99.2 C295.1,99.3 295.9,99.4 297.7,99.5 C299.5,99.6 300.3,99.7 302.1,99.8" stroke="#5B9BD5" stroke-width="1.6" fill="none" stroke-linejoin="round" stroke-linecap="round"/><path d="M37.6,215.5 L40.6,218.5 L37.6,221.5 L34.6,218.5Z" fill="#5B9BD5"/><path d="M54.2,144.9 L57.2,147.9 L54.2,150.9 L51.2,147.9Z" fill="#5B9BD5"/><path d="M56.6,138.3 L59.6,141.3 L56.6,144.3 L53.6,141.3Z" fill="#5B9BD5"/><path d="M59.7,133.4 L62.7,136.4 L59.7,139.4 L56.7,136.4Z" fill="#5B9BD5"/><path d="M61.2,127.6 L64.2,130.6 L61.2,133.6 L58.2,130.6Z" fill="#5B9BD5"/><path d="M64.4,121.9 L67.4,124.9 L64.4,127.9 L61.4,124.9Z" fill="#5B9BD5"/><path d="M69.3,117.9 L72.3,120.9 L69.3,123.9 L66.3,120.9Z" fill="#5B9BD5"/><path d="M74.1,113.4 L77.1,116.4 L74.1,119.4 L71.1,116.4Z" fill="#5B9BD5"/><path d="M78.2,112.6 L81.2,115.6 L78.2,118.6 L75.2,115.6Z" fill="#5B9BD5"/><path d="M83.0,109.0 L86.0,112.0 L83.0,115.0 L80.0,112.0Z" fill="#5B9BD5"/><path d="M89.0,105.0 L92.0,108.0 L89.0,111.0 L86.0,108.0Z" fill="#5B9BD5"/><path d="M95.0,102.5 L98.0,105.5 L95.0,108.5 L92.0,105.5Z" fill="#5B9BD5"/><path d="M109.1,93.1 L112.1,96.1 L109.1,99.1 L106.1,96.1Z" fill="#5B9BD5"/><path d="M114.6,88.9 L117.6,91.9 L114.6,94.9 L111.6,91.9Z" fill="#5B9BD5"/><path d="M123.1,82.8 L126.1,85.8 L123.1,88.8 L120.1,85.8Z" fill="#5B9BD5"/><path d="M128.5,77.9 L131.5,80.9 L128.5,83.9 L125.5,80.9Z" fill="#5B9BD5"/><path d="M134.9,72.9 L137.9,75.9 L134.9,78.9 L131.9,75.9Z" fill="#5B9BD5"/><path d="M145.4,68.1 L148.4,71.1 L145.4,74.1 L142.4,71.1Z" fill="#5B9BD5"/><path d="M155.9,60.8 L158.9,63.8 L155.9,66.8 L152.9,63.8Z" fill="#5B9BD5"/><path d="M160.8,55.9 L163.8,58.9 L160.8,61.9 L157.8,58.9Z" fill="#5B9BD5"/><path d="M166.5,50.2 L169.5,53.2 L166.5,56.2 L163.5,53.2Z" fill="#5B9BD5"/><path d="M171.3,45.4 L174.3,48.4 L171.3,51.4 L168.3,48.4Z" fill="#5B9BD5"/><path d="M177.8,38.1 L180.8,41.1 L177.8,44.1 L174.8,41.1Z" fill="#5B9BD5"/><path d="M183.5,33.2 L186.5,36.2 L183.5,39.2 L180.5,36.2Z" fill="#5B9BD5"/><path d="M190.0,29.2 L193.0,32.2 L190.0,35.2 L187.0,32.2Z" fill="#5B9BD5"/><path d="M194.8,28.3 L197.8,31.3 L194.8,34.3 L191.8,31.3Z" fill="#5B9BD5"/><path d="M199.7,33.2 L202.7,36.2 L199.7,39.2 L196.7,36.2Z" fill="#5B9BD5"/><path d="M204.6,38.1 L207.6,41.1 L204.6,44.1 L201.6,41.1Z" fill="#5B9BD5"/><path d="M211.0,41.3 L214.0,44.3 L211.0,47.3 L208.0,44.3Z" fill="#5B9BD5"/><path d="M221.6,47.8 L224.6,50.8 L221.6,53.8 L218.6,50.8Z" fill="#5B9BD5"/><path d="M227.3,52.9 L230.3,55.9 L227.3,58.9 L224.3,55.9Z" fill="#5B9BD5"/><path d="M237.1,58.2 L240.1,61.2 L237.1,64.2 L234.1,61.2Z" fill="#5B9BD5"/><path d="M241.7,58.2 L244.7,61.2 L241.7,64.2 L238.7,61.2Z" fill="#5B9BD5"/><path d="M249.3,63.6 L252.3,66.6 L249.3,69.6 L246.3,66.6Z" fill="#5B9BD5"/><path d="M251.6,69.6 L254.6,72.6 L251.6,75.6 L248.6,72.6Z" fill="#5B9BD5"/><path d="M255.3,74.2 L258.3,77.2 L255.3,80.2 L252.3,77.2Z" fill="#5B9BD5"/><path d="M259.9,82.5 L262.9,85.5 L259.9,88.5 L256.9,85.5Z" fill="#5B9BD5"/><path d="M262.9,90.1 L265.9,93.1 L262.9,96.1 L259.9,93.1Z" fill="#5B9BD5"/><path d="M268.8,94.4 L271.8,97.4 L268.8,100.4 L265.8,97.4Z" fill="#5B9BD5"/><path d="M272.7,94.8 L275.7,97.8 L272.7,100.8 L269.7,97.8Z" fill="#5B9BD5"/><path d="M276.2,95.0 L279.2,98.0 L276.2,101.0 L273.2,98.0Z" fill="#5B9BD5"/><path d="M281.0,95.3 L284.0,98.3 L281.0,101.3 L278.0,98.3Z" fill="#5B9BD5"/><path d="M285.4,95.6 L288.4,98.6 L285.4,101.6 L282.4,98.6Z" fill="#5B9BD5"/><path d="M289.4,95.9 L292.4,98.9 L289.4,101.9 L286.4,98.9Z" fill="#5B9BD5"/><path d="M293.3,96.2 L296.3,99.2 L293.3,102.2 L290.3,99.2Z" fill="#5B9BD5"/><path d="M297.7,96.5 L300.7,99.5 L297.7,102.5 L294.7,99.5Z" fill="#5B9BD5"/><path d="M302.1,96.8 L305.1,99.8 L302.1,102.8 L299.1,99.8Z" fill="#5B9BD5"/><line x1="153.8" y1="119.3" x2="167.5" y2="119.3" stroke="#255E91" stroke-width="1.6"/><path d="M160.7,117.3 L162.7,119.3 L160.7,121.3 L158.7,119.3Z" fill="#255E91"/><text x="168.8" y="122.0" font-size="8" text-anchor="start" font-family="Liberation Serif" font-weight="bold" fill="#000" >L70 2H 8D</text><line x1="153.8" y1="130.9" x2="167.5" y2="130.9" stroke="#9E480E" stroke-width="1.6"/><rect x="158.8" y="129.9" width="3.6" height="2.0" fill="#9E480E"/><text x="168.8" y="133.6" font-size="8" text-anchor="start" font-family="Liberation Serif" font-weight="bold" fill="#000" >L70 2H 10D</text><line x1="153.8" y1="142.5" x2="167.5" y2="142.5" stroke="#4472C4" stroke-width="1.6"/><path d="M158.2,140.1 L163.1,144.9 M163.1,140.1 L158.2,144.9" stroke="#4472C4" stroke-width="1.9" fill="none"/><text x="168.8" y="145.2" font-size="8" text-anchor="start" font-family="Liberation Serif" font-weight="bold" fill="#000" >L70 2H 12D</text><line x1="153.8" y1="154.2" x2="167.5" y2="154.2" stroke="#70AD47" stroke-width="1.6"/><circle cx="160.7" cy="154.2" r="2.8" fill="#70AD47"/><text x="168.8" y="156.9" font-size="8" text-anchor="start" font-family="Liberation Serif" font-weight="bold" fill="#000" >L70 4H 8D</text><line x1="153.8" y1="165.8" x2="167.5" y2="165.8" stroke="#FFC000" stroke-width="1.6"/><path d="M158.1,163.2 L163.2,168.4 M163.2,163.2 L158.1,168.4 M160.7,162.7 L160.7,168.9" stroke="#FFC000" stroke-width="1.3" fill="none"/><text x="168.8" y="168.5" font-size="8" text-anchor="start" font-family="Liberation Serif" font-weight="bold" fill="#000" >L70 4H 10D</text><line x1="153.8" y1="177.4" x2="167.5" y2="177.4" stroke="#636363" stroke-width="1.6"/><rect x="158.2" y="176.2" width="5.0" height="2.4" fill="#636363"/><text x="168.8" y="180.1" font-size="8" text-anchor="start" font-family="Liberation Serif" font-weight="bold" fill="#000" >L70 4H 12D</text><line x1="153.8" y1="189.0" x2="167.5" y2="189.0" stroke="#A5A5A5" stroke-width="1.6"/><path d="M160.7,186.0 L163.7,191.3 L157.7,191.3Z" fill="#A5A5A5"/><text x="168.8" y="191.7" font-size="8" text-anchor="start" font-family="Liberation Serif" font-weight="bold" fill="#000" >L70 6H 8D</text><line x1="153.8" y1="200.6" x2="167.5" y2="200.6" stroke="#ED7D31" stroke-width="1.6"/><rect x="158.1" y="198.0" width="5.2" height="5.2" fill="#ED7D31"/><text x="168.8" y="203.3" font-size="8" text-anchor="start" font-family="Liberation Serif" font-weight="bold" fill="#000" >L70 6H 10D</text><line x1="153.8" y1="212.3" x2="167.5" y2="212.3" stroke="#5B9BD5" stroke-width="1.6"/><path d="M160.7,209.3 L163.7,212.3 L160.7,215.3 L157.7,212.3Z" fill="#5B9BD5"/><text x="168.8" y="215.0" font-size="8" text-anchor="start" font-family="Liberation Serif" font-weight="bold" fill="#000" >L70 6H 12D</text>
<line x1="344.6" y1="0.10000000000000009" x2="344.6" y2="247.1" stroke="#222" stroke-width="1.4"/><line x1="343.90000000000003" y1="0.8" x2="685.2" y2="0.8" stroke="#111" stroke-width="1.4"/><line x1="684.5" y1="0.10000000000000009" x2="684.5" y2="247.1" stroke="#1a1a1a" stroke-width="1.4"/><line x1="343.90000000000003" y1="246.4" x2="685.2" y2="246.4" stroke="#2a2a2a" stroke-width="1.4"/><line x1="375.5" y1="4.700000000000017" x2="375.5" y2="217.9" stroke="#333" stroke-width="1"/><line x1="375.5" y1="217.9" x2="677.5" y2="217.9" stroke="#444" stroke-width="1.1"/><text x="368.9" y="220.7" font-size="8" text-anchor="end" font-family="Liberation Serif" font-weight="bold" fill="#000" >0</text><text x="368.9" y="194.1" font-size="8" text-anchor="end" font-family="Liberation Serif" font-weight="bold" fill="#000" >5</text><text x="368.9" y="167.4" font-size="8" text-anchor="end" font-family="Liberation Serif" font-weight="bold" fill="#000" >10</text><text x="368.9" y="140.8" font-size="8" text-anchor="end" font-family="Liberation Serif" font-weight="bold" fill="#000" >15</text><text x="368.9" y="114.1" font-size="8" text-anchor="end" font-family="Liberation Serif" font-weight="bold" fill="#000" >20</text><text x="368.9" y="87.5" font-size="8" text-anchor="end" font-family="Liberation Serif" font-weight="bold" fill="#000" >25</text><text x="368.9" y="60.8" font-size="8" text-anchor="end" font-family="Liberation Serif" font-weight="bold" fill="#000" >30</text><text x="368.9" y="34.1" font-size="8" text-anchor="end" font-family="Liberation Serif" font-weight="bold" fill="#000" >35</text><text x="368.9" y="7.5" font-size="8" text-anchor="end" font-family="Liberation Serif" font-weight="bold" fill="#000" >40</text><text x="375.5" y="230.3" font-size="8" text-anchor="middle" font-family="Liberation Serif" font-weight="bold" fill="#000" >0</text><text x="435.9" y="230.3" font-size="8" text-anchor="middle" font-family="Liberation Serif" font-weight="bold" fill="#000" >1</text><text x="496.3" y="230.3" font-size="8" text-anchor="middle" font-family="Liberation Serif" font-weight="bold" fill="#000" >2</text><text x="556.7" y="230.3" font-size="8" text-anchor="middle" font-family="Liberation Serif" font-weight="bold" fill="#000" >3</text><text x="617.1" y="230.3" font-size="8" text-anchor="middle" font-family="Liberation Serif" font-weight="bold" fill="#000" >4</text><text x="677.5" y="230.3" font-size="8" text-anchor="middle" font-family="Liberation Serif" font-weight="bold" fill="#000" >5</text><text x="514.1" y="240.6" font-size="8" text-anchor="middle" font-family="Liberation Serif" font-weight="bold" fill="#000" textLength="149.8" lengthAdjust="spacingAndGlyphs">Quasi static compressive displacement (mm)</text><g transform="translate(353.6,100.4) rotate(-90)"><text x="0" y="0" font-size="8" text-anchor="middle" font-family="Liberation Serif" font-weight="bold" fill="#000" textLength="116.7" lengthAdjust="spacingAndGlyphs">Quasi static compressive load (kN)</text></g><path d="M375.5,217.9 C388.6,184.5 392.2,164.1 408.3,134.5 C410.8,129.9 416.8,134.1 421.9,132.4 C428.1,130.3 430.7,127.9 436.6,124.9 C439.9,123.2 441.7,122.6 445.0,120.8 C450.0,118.1 452.2,116.1 457.3,113.7 C466.2,109.6 470.7,107.5 480.0,104.6 C485.6,102.8 489.0,103.6 494.6,101.9 C497.1,101.1 498.0,99.9 500.1,98.3 C502.8,96.2 504.0,94.9 506.5,92.5 C508.8,90.2 510.1,89.1 512.0,86.5 C514.0,83.8 514.6,82.1 516.3,79.2 C519.3,73.9 520.0,70.7 523.7,66.0 C526.1,62.9 528.2,61.9 531.5,59.7 C535.2,57.2 537.2,54.9 541.2,54.3 C544.3,53.8 546.5,55.0 549.2,56.9 C552.5,59.2 553.0,62.1 556.2,64.7 C559.7,67.5 561.8,68.8 565.9,70.4 C570.2,72.0 572.7,71.7 577.2,72.8 C583.1,74.3 586.1,74.9 591.8,76.9 C597.1,78.8 599.5,80.5 604.8,82.5 C610.9,84.9 613.9,86.5 620.2,87.9 C627.2,89.5 631.1,88.7 638.1,90.0 C640.8,90.5 641.9,91.5 644.5,92.4 C651.6,94.8 655.0,96.7 662.3,98.1 C667.0,99.0 669.6,98.1 674.5,98.1" stroke="#9E480E" stroke-width="1.6" fill="none" stroke-linejoin="round" stroke-linecap="round"/><circle cx="375.5" cy="217.9" r="1.8" fill="#9E480E"/><circle cx="408.3" cy="134.5" r="1.8" fill="#9E480E"/><circle cx="421.9" cy="132.4" r="1.8" fill="#9E480E"/><circle cx="436.6" cy="124.9" r="1.8" fill="#9E480E"/><circle cx="445.0" cy="120.8" r="1.8" fill="#9E480E"/><circle cx="457.3" cy="113.7" r="1.8" fill="#9E480E"/><circle cx="480.0" cy="104.6" r="1.8" fill="#9E480E"/><circle cx="494.6" cy="101.9" r="1.8" fill="#9E480E"/><circle cx="500.1" cy="98.3" r="1.8" fill="#9E480E"/><circle cx="506.5" cy="92.5" r="1.8" fill="#9E480E"/><circle cx="512.0" cy="86.5" r="1.8" fill="#9E480E"/><circle cx="516.3" cy="79.2" r="1.8" fill="#9E480E"/><circle cx="523.7" cy="66.0" r="1.8" fill="#9E480E"/><circle cx="531.5" cy="59.7" r="1.8" fill="#9E480E"/><circle cx="541.2" cy="54.3" r="1.8" fill="#9E480E"/><circle cx="549.2" cy="56.9" r="1.8" fill="#9E480E"/><circle cx="556.2" cy="64.7" r="1.8" fill="#9E480E"/><circle cx="565.9" cy="70.4" r="1.8" fill="#9E480E"/><circle cx="577.2" cy="72.8" r="1.8" fill="#9E480E"/><circle cx="591.8" cy="76.9" r="1.8" fill="#9E480E"/><circle cx="604.8" cy="82.5" r="1.8" fill="#9E480E"/><circle cx="620.2" cy="87.9" r="1.8" fill="#9E480E"/><circle cx="638.1" cy="90.0" r="1.8" fill="#9E480E"/><circle cx="644.5" cy="92.4" r="1.8" fill="#9E480E"/><circle cx="662.3" cy="98.1" r="1.8" fill="#9E480E"/><circle cx="674.5" cy="98.1" r="1.8" fill="#9E480E"/><path d="M375.5,217.9 C385.8,187.8 390.8,172.7 401.2,142.6 C403.4,136.3 403.8,132.7 406.8,126.9 C408.2,124.2 409.7,122.9 412.3,121.3 C415.2,119.5 417.2,119.6 420.4,118.3 C425.7,116.2 428.3,114.9 433.6,112.7 C438.1,110.8 440.6,110.4 445.0,108.2 C451.2,105.0 453.7,102.2 460.0,99.2 C468.1,95.3 473.1,95.2 481.0,91.0 C486.2,88.2 488.0,85.4 492.8,81.9 C495.6,79.8 496.8,78.4 500.0,77.0 C506.3,74.3 509.9,73.9 516.5,71.8 C519.4,70.9 520.9,70.6 523.7,69.6 C526.3,68.7 528.0,66.1 530.0,67.0 C533.1,68.3 534.1,71.7 536.4,75.1 C538.5,78.2 538.3,81.2 541.0,83.3 C543.2,85.0 545.5,84.0 548.5,84.6 C550.3,85.0 551.8,84.6 553.0,85.8 C555.8,88.6 555.9,91.5 558.6,94.7 C560.8,97.3 562.2,98.4 565.1,100.3 C569.7,103.3 572.0,105.4 577.2,106.8 C586.5,109.3 591.9,108.1 601.5,110.1 C605.9,111.0 607.8,112.5 612.0,114.0 C617.2,115.8 619.8,117.0 625.1,118.3 C629.8,119.4 632.3,119.4 637.2,119.9 C642.1,120.4 644.5,120.5 649.4,120.7 C654.2,120.9 656.7,120.7 661.5,120.7 C666.4,120.7 668.8,120.7 673.7,120.7" stroke="#4472C4" stroke-width="1.6" fill="none" stroke-linejoin="round" stroke-linecap="round"/><path d="M373.1,215.5 L377.9,220.3 M377.9,215.5 L373.1,220.3" stroke="#4472C4" stroke-width="1.9" fill="none"/><path d="M398.8,140.2 L403.6,145.0 M403.6,140.2 L398.8,145.0" stroke="#4472C4" stroke-width="1.9" fill="none"/><path d="M404.4,124.5 L409.2,129.3 M409.2,124.5 L404.4,129.3" stroke="#4472C4" stroke-width="1.9" fill="none"/><path d="M409.9,118.9 L414.7,123.7 M414.7,118.9 L409.9,123.7" stroke="#4472C4" stroke-width="1.9" fill="none"/><path d="M418.0,115.9 L422.8,120.7 M422.8,115.9 L418.0,120.7" stroke="#4472C4" stroke-width="1.9" fill="none"/><path d="M431.2,110.3 L436.0,115.1 M436.0,110.3 L431.2,115.1" stroke="#4472C4" stroke-width="1.9" fill="none"/><path d="M442.6,105.8 L447.4,110.6 M447.4,105.8 L442.6,110.6" stroke="#4472C4" stroke-width="1.9" fill="none"/><path d="M457.6,96.8 L462.4,101.6 M462.4,96.8 L457.6,101.6" stroke="#4472C4" stroke-width="1.9" fill="none"/><path d="M478.6,88.6 L483.4,93.4 M483.4,88.6 L478.6,93.4" stroke="#4472C4" stroke-width="1.9" fill="none"/><path d="M490.4,79.5 L495.2,84.3 M495.2,79.5 L490.4,84.3" stroke="#4472C4" stroke-width="1.9" fill="none"/><path d="M497.6,74.6 L502.4,79.4 M502.4,74.6 L497.6,79.4" stroke="#4472C4" stroke-width="1.9" fill="none"/><path d="M514.1,69.4 L518.9,74.2 M518.9,69.4 L514.1,74.2" stroke="#4472C4" stroke-width="1.9" fill="none"/><path d="M521.3,67.2 L526.1,72.0 M526.1,67.2 L521.3,72.0" stroke="#4472C4" stroke-width="1.9" fill="none"/><path d="M527.6,64.6 L532.4,69.4 M532.4,64.6 L527.6,69.4" stroke="#4472C4" stroke-width="1.9" fill="none"/><path d="M534.0,72.7 L538.8,77.5 M538.8,72.7 L534.0,77.5" stroke="#4472C4" stroke-width="1.9" fill="none"/><path d="M538.6,80.9 L543.4,85.7 M543.4,80.9 L538.6,85.7" stroke="#4472C4" stroke-width="1.9" fill="none"/><path d="M546.1,82.2 L550.9,87.0 M550.9,82.2 L546.1,87.0" stroke="#4472C4" stroke-width="1.9" fill="none"/><path d="M550.6,83.4 L555.4,88.2 M555.4,83.4 L550.6,88.2" stroke="#4472C4" stroke-width="1.9" fill="none"/><path d="M556.2,92.3 L561.0,97.1 M561.0,92.3 L556.2,97.1" stroke="#4472C4" stroke-width="1.9" fill="none"/><path d="M562.7,97.9 L567.5,102.7 M567.5,97.9 L562.7,102.7" stroke="#4472C4" stroke-width="1.9" fill="none"/><path d="M574.8,104.4 L579.6,109.2 M579.6,104.4 L574.8,109.2" stroke="#4472C4" stroke-width="1.9" fill="none"/><path d="M599.1,107.7 L603.9,112.5 M603.9,107.7 L599.1,112.5" stroke="#4472C4" stroke-width="1.9" fill="none"/><path d="M609.6,111.6 L614.4,116.4 M614.4,111.6 L609.6,116.4" stroke="#4472C4" stroke-width="1.9" fill="none"/><path d="M622.7,115.9 L627.5,120.7 M627.5,115.9 L622.7,120.7" stroke="#4472C4" stroke-width="1.9" fill="none"/><path d="M634.8,117.5 L639.6,122.3 M639.6,117.5 L634.8,122.3" stroke="#4472C4" stroke-width="1.9" fill="none"/><path d="M647.0,118.3 L651.8,123.1 M651.8,118.3 L647.0,123.1" stroke="#4472C4" stroke-width="1.9" fill="none"/><path d="M659.1,118.3 L663.9,123.1 M663.9,118.3 L659.1,123.1" stroke="#4472C4" stroke-width="1.9" fill="none"/><path d="M671.3,118.3 L676.1,123.1 M676.1,118.3 L671.3,123.1" stroke="#4472C4" stroke-width="1.9" fill="none"/><path d="M375.5,217.9 C382.6,189.7 386.0,175.6 393.2,147.4 C393.9,144.5 394.2,143.0 395.3,140.3 C396.2,138.1 397.2,137.3 398.3,135.2 C399.6,132.8 400.1,131.5 401.4,129.1 C402.5,127.0 403.0,125.9 404.4,124.0 C406.9,120.7 408.2,118.9 411.3,116.3 C413.4,114.6 414.9,114.3 417.4,113.2 C419.8,112.1 421.2,111.9 423.5,110.7 C426.4,109.2 427.7,108.3 430.5,106.6 C432.9,105.1 434.0,104.1 436.5,102.8 C439.8,101.1 441.9,101.0 445.0,99.0 C447.0,97.7 447.3,96.1 449.1,94.6 C450.9,93.1 452.1,92.7 454.1,91.3 C458.0,88.7 460.0,87.4 463.7,84.6 C466.0,82.9 466.9,81.7 469.1,80.0 C472.0,77.7 473.3,76.4 476.5,74.6 C481.0,72.1 483.6,71.5 488.2,69.2 C493.2,66.7 496.0,65.8 500.4,62.5 C502.6,60.9 502.6,58.9 504.6,56.9 C507.0,54.5 508.9,54.0 511.3,51.6 C513.0,49.9 513.5,48.6 515.0,46.7 C517.1,44.0 518.0,42.5 520.4,40.0 C522.6,37.8 523.8,36.7 526.4,35.0 C528.4,33.6 529.6,33.2 531.9,32.3 C534.0,31.4 535.1,30.9 537.3,30.5 C538.7,30.2 539.8,29.9 541.0,30.5 C542.4,31.3 542.3,33.0 543.7,34.1 C546.3,36.3 548.4,36.5 551.0,38.7 C552.7,40.2 552.8,41.9 554.6,43.2 C557.5,45.2 559.5,45.5 562.8,46.9 C565.3,48.0 566.9,48.1 569.2,49.6 C570.9,50.7 571.2,52.0 572.9,53.3 C576.0,55.6 577.6,56.9 581.0,58.5 C583.4,59.6 585.1,59.0 587.5,60.2 C590.8,61.8 592.2,63.2 595.1,65.5 C596.5,66.6 597.1,67.4 598.3,68.8 C599.4,70.1 599.9,70.7 600.8,72.1 C601.8,73.7 602.6,74.4 603.2,76.2 C604.2,78.9 604.0,80.5 604.8,83.3 C605.4,85.3 605.5,86.5 606.5,88.3 C607.5,90.1 608.0,91.4 609.7,92.4 C611.9,93.7 613.6,93.5 616.2,94.0 C622.6,95.1 625.9,95.6 632.4,96.4 C640.8,97.4 645.0,97.7 653.4,98.5" stroke="#636363" stroke-width="1.6" fill="none" stroke-linejoin="round" stroke-linecap="round"/><rect x="373.0" y="216.7" width="5.0" height="2.4" fill="#636363"/><rect x="390.7" y="146.2" width="5.0" height="2.4" fill="#636363"/><rect x="392.8" y="139.1" width="5.0" height="2.4" fill="#636363"/><rect x="395.8" y="134.0" width="5.0" height="2.4" fill="#636363"/><rect x="398.9" y="127.9" width="5.0" height="2.4" fill="#636363"/><rect x="401.9" y="122.8" width="5.0" height="2.4" fill="#636363"/><rect x="408.8" y="115.1" width="5.0" height="2.4" fill="#636363"/><rect x="414.9" y="112.0" width="5.0" height="2.4" fill="#636363"/><rect x="421.0" y="109.5" width="5.0" height="2.4" fill="#636363"/><rect x="428.0" y="105.4" width="5.0" height="2.4" fill="#636363"/><rect x="434.0" y="101.6" width="5.0" height="2.4" fill="#636363"/><rect x="442.5" y="97.8" width="5.0" height="2.4" fill="#636363"/><rect x="446.6" y="93.4" width="5.0" height="2.4" fill="#636363"/><rect x="451.6" y="90.1" width="5.0" height="2.4" fill="#636363"/><rect x="461.2" y="83.4" width="5.0" height="2.4" fill="#636363"/><rect x="466.6" y="78.8" width="5.0" height="2.4" fill="#636363"/><rect x="474.0" y="73.4" width="5.0" height="2.4" fill="#636363"/><rect x="485.7" y="68.0" width="5.0" height="2.4" fill="#636363"/><rect x="497.9" y="61.3" width="5.0" height="2.4" fill="#636363"/><rect x="502.1" y="55.7" width="5.0" height="2.4" fill="#636363"/><rect x="508.8" y="50.4" width="5.0" height="2.4" fill="#636363"/><rect x="512.5" y="45.5" width="5.0" height="2.4" fill="#636363"/><rect x="517.9" y="38.8" width="5.0" height="2.4" fill="#636363"/><rect x="523.9" y="33.8" width="5.0" height="2.4" fill="#636363"/><rect x="529.4" y="31.1" width="5.0" height="2.4" fill="#636363"/><rect x="534.8" y="29.3" width="5.0" height="2.4" fill="#636363"/><rect x="538.5" y="29.3" width="5.0" height="2.4" fill="#636363"/><rect x="541.2" y="32.9" width="5.0" height="2.4" fill="#636363"/><rect x="548.5" y="37.5" width="5.0" height="2.4" fill="#636363"/><rect x="552.1" y="42.0" width="5.0" height="2.4" fill="#636363"/><rect x="560.3" y="45.7" width="5.0" height="2.4" fill="#636363"/><rect x="566.7" y="48.4" width="5.0" height="2.4" fill="#636363"/><rect x="570.4" y="52.1" width="5.0" height="2.4" fill="#636363"/><rect x="578.5" y="57.3" width="5.0" height="2.4" fill="#636363"/><rect x="585.0" y="59.0" width="5.0" height="2.4" fill="#636363"/><rect x="592.6" y="64.3" width="5.0" height="2.4" fill="#636363"/><rect x="595.8" y="67.6" width="5.0" height="2.4" fill="#636363"/><rect x="598.3" y="70.9" width="5.0" height="2.4" fill="#636363"/><rect x="600.7" y="75.0" width="5.0" height="2.4" fill="#636363"/><rect x="602.3" y="82.1" width="5.0" height="2.4" fill="#636363"/><rect x="604.0" y="87.1" width="5.0" height="2.4" fill="#636363"/><rect x="607.2" y="91.2" width="5.0" height="2.4" fill="#636363"/><rect x="613.7" y="92.8" width="5.0" height="2.4" fill="#636363"/><rect x="629.9" y="95.2" width="5.0" height="2.4" fill="#636363"/><rect x="650.9" y="97.3" width="5.0" height="2.4" fill="#636363"/><path d="M375.5,217.9 C387.4,182.9 393.0,165.2 405.2,130.4 C405.5,129.4 406.3,129.3 406.8,128.4 C409.2,123.7 409.4,120.6 412.3,116.3 C414.8,112.6 416.9,110.9 420.4,108.2 C421.4,107.5 422.3,108.0 423.5,107.7 C424.8,107.3 425.4,106.4 426.7,106.5 C430.6,106.7 432.9,109.0 436.5,108.3 C439.7,107.7 440.6,104.5 443.7,103.4 C445.6,102.7 446.9,103.6 449.1,103.7 C452.0,103.8 453.8,104.7 456.4,103.7 C459.3,102.5 459.7,99.1 462.8,98.3 C469.2,96.6 473.2,98.1 480.0,97.3 C485.2,96.7 488.0,96.5 492.8,94.6 C496.8,93.0 498.3,90.9 502.0,88.5 C505.5,86.2 507.3,85.0 510.9,82.8 C513.3,81.3 515.1,81.2 516.9,79.2 C520.4,75.4 520.5,71.2 524.2,68.2 C526.1,66.6 528.4,67.2 531.0,67.8 C539.8,69.9 544.3,71.6 552.8,75.1 C556.7,76.7 558.3,78.3 561.9,80.6 C565.9,83.2 567.6,84.9 571.6,87.4 C576.0,90.2 578.4,91.3 582.9,93.9 C585.8,95.5 587.2,96.6 590.2,97.9 C594.6,99.8 596.9,100.9 601.5,102.1 C606.6,103.5 609.7,102.7 614.5,104.4 C616.9,105.3 617.8,106.6 619.4,108.6 C620.8,110.2 621.2,111.4 621.9,113.4 C622.5,115.3 621.3,117.2 622.7,118.3 C627.4,122.0 631.2,123.7 637.2,125.6 C639.6,126.3 641.1,125.0 643.7,124.8 C646.3,124.6 647.6,124.8 650.2,124.8" stroke="#255E91" stroke-width="1.6" fill="none" stroke-linejoin="round" stroke-linecap="round"/><path d="M375.5,215.9 L377.5,217.9 L375.5,219.9 L373.5,217.9Z" fill="#255E91"/><path d="M405.2,128.4 L407.2,130.4 L405.2,132.4 L403.2,130.4Z" fill="#255E91"/><path d="M406.8,126.4 L408.8,128.4 L406.8,130.4 L404.8,128.4Z" fill="#255E91"/><path d="M412.3,114.3 L414.3,116.3 L412.3,118.3 L410.3,116.3Z" fill="#255E91"/><path d="M420.4,106.2 L422.4,108.2 L420.4,110.2 L418.4,108.2Z" fill="#255E91"/><path d="M423.5,105.7 L425.5,107.7 L423.5,109.7 L421.5,107.7Z" fill="#255E91"/><path d="M426.7,104.5 L428.7,106.5 L426.7,108.5 L424.7,106.5Z" fill="#255E91"/><path d="M436.5,106.3 L438.5,108.3 L436.5,110.3 L434.5,108.3Z" fill="#255E91"/><path d="M443.7,101.4 L445.7,103.4 L443.7,105.4 L441.7,103.4Z" fill="#255E91"/><path d="M449.1,101.7 L451.1,103.7 L449.1,105.7 L447.1,103.7Z" fill="#255E91"/><path d="M456.4,101.7 L458.4,103.7 L456.4,105.7 L454.4,103.7Z" fill="#255E91"/><path d="M462.8,96.3 L464.8,98.3 L462.8,100.3 L460.8,98.3Z" fill="#255E91"/><path d="M480.0,95.3 L482.0,97.3 L480.0,99.3 L478.0,97.3Z" fill="#255E91"/><path d="M492.8,92.6 L494.8,94.6 L492.8,96.6 L490.8,94.6Z" fill="#255E91"/><path d="M502.0,86.5 L504.0,88.5 L502.0,90.5 L500.0,88.5Z" fill="#255E91"/><path d="M510.9,80.8 L512.9,82.8 L510.9,84.8 L508.9,82.8Z" fill="#255E91"/><path d="M516.9,77.2 L518.9,79.2 L516.9,81.2 L514.9,79.2Z" fill="#255E91"/><path d="M524.2,66.2 L526.2,68.2 L524.2,70.2 L522.2,68.2Z" fill="#255E91"/><path d="M531.0,65.8 L533.0,67.8 L531.0,69.8 L529.0,67.8Z" fill="#255E91"/><path d="M552.8,73.1 L554.8,75.1 L552.8,77.1 L550.8,75.1Z" fill="#255E91"/><path d="M561.9,78.6 L563.9,80.6 L561.9,82.6 L559.9,80.6Z" fill="#255E91"/><path d="M571.6,85.4 L573.6,87.4 L571.6,89.4 L569.6,87.4Z" fill="#255E91"/><path d="M582.9,91.9 L584.9,93.9 L582.9,95.9 L580.9,93.9Z" fill="#255E91"/><path d="M590.2,95.9 L592.2,97.9 L590.2,99.9 L588.2,97.9Z" fill="#255E91"/><path d="M601.5,100.1 L603.5,102.1 L601.5,104.1 L599.5,102.1Z" fill="#255E91"/><path d="M614.5,102.4 L616.5,104.4 L614.5,106.4 L612.5,104.4Z" fill="#255E91"/><path d="M619.4,106.6 L621.4,108.6 L619.4,110.6 L617.4,108.6Z" fill="#255E91"/><path d="M621.9,111.4 L623.9,113.4 L621.9,115.4 L619.9,113.4Z" fill="#255E91"/><path d="M622.7,116.3 L624.7,118.3 L622.7,120.3 L620.7,118.3Z" fill="#255E91"/><path d="M637.2,123.6 L639.2,125.6 L637.2,127.6 L635.2,125.6Z" fill="#255E91"/><path d="M643.7,122.8 L645.7,124.8 L643.7,126.8 L641.7,124.8Z" fill="#255E91"/><path d="M650.2,122.8 L652.2,124.8 L650.2,126.8 L648.2,124.8Z" fill="#255E91"/><path d="M375.5,217.9 C387.8,182.9 391.2,163.2 406.3,130.4 C409.0,124.6 414.5,125.1 420.0,121.6 C426.6,117.4 430.0,115.5 436.5,111.3 C439.7,109.2 441.7,108.5 444.3,105.8 C448.0,102.0 448.8,99.1 452.2,94.9 C453.7,93.0 454.5,91.9 456.5,90.7 C461.2,87.8 463.8,86.1 469.1,84.6 C473.6,83.3 476.6,85.2 481.0,83.7 C485.7,82.2 487.9,80.2 491.9,77.1 C495.2,74.6 495.6,71.4 499.2,69.8 C503.4,68.0 506.8,70.1 511.3,68.6 C516.0,67.0 517.7,61.9 522.2,61.9 C527.7,61.9 530.6,66.3 536.4,68.7 C539.9,70.1 542.1,69.8 545.5,71.5 C548.7,73.1 549.9,74.7 552.8,76.9 C556.5,79.8 558.4,81.1 561.9,84.2 C565.0,86.9 566.3,88.6 569.2,91.5 C572.4,94.7 573.4,97.2 577.2,99.5 C581.7,102.2 584.8,102.4 590.0,104.0 C594.5,105.4 596.9,105.9 601.5,106.8 C606.0,107.7 608.5,107.1 612.9,108.4 C617.9,109.9 620.1,111.9 625.0,114.0 C629.8,116.1 632.1,117.7 637.2,119.1 C641.9,120.4 644.5,120.4 649.4,120.7 C654.2,121.0 656.7,120.7 661.5,120.7" stroke="#FFC000" stroke-width="1.6" fill="none" stroke-linejoin="round" stroke-linecap="round"/><path d="M372.9,215.3 L378.1,220.5 M378.1,215.3 L372.9,220.5 M375.5,214.8 L375.5,221.0" stroke="#FFC000" stroke-width="1.3" fill="none"/><path d="M403.7,127.8 L408.9,133.0 M408.9,127.8 L403.7,133.0 M406.3,127.3 L406.3,133.5" stroke="#FFC000" stroke-width="1.3" fill="none"/><path d="M417.4,119.0 L422.6,124.2 M422.6,119.0 L417.4,124.2 M420.0,118.5 L420.0,124.7" stroke="#FFC000" stroke-width="1.3" fill="none"/><path d="M433.9,108.7 L439.1,113.9 M439.1,108.7 L433.9,113.9 M436.5,108.2 L436.5,114.4" stroke="#FFC000" stroke-width="1.3" fill="none"/><path d="M441.7,103.2 L446.9,108.4 M446.9,103.2 L441.7,108.4 M444.3,102.7 L444.3,108.9" stroke="#FFC000" stroke-width="1.3" fill="none"/><path d="M449.6,92.3 L454.8,97.5 M454.8,92.3 L449.6,97.5 M452.2,91.8 L452.2,98.0" stroke="#FFC000" stroke-width="1.3" fill="none"/><path d="M453.9,88.1 L459.1,93.3 M459.1,88.1 L453.9,93.3 M456.5,87.6 L456.5,93.8" stroke="#FFC000" stroke-width="1.3" fill="none"/><path d="M466.5,82.0 L471.7,87.2 M471.7,82.0 L466.5,87.2 M469.1,81.5 L469.1,87.7" stroke="#FFC000" stroke-width="1.3" fill="none"/><path d="M478.4,81.1 L483.6,86.3 M483.6,81.1 L478.4,86.3 M481.0,80.6 L481.0,86.8" stroke="#FFC000" stroke-width="1.3" fill="none"/><path d="M489.3,74.5 L494.5,79.7 M494.5,74.5 L489.3,79.7 M491.9,74.0 L491.9,80.2" stroke="#FFC000" stroke-width="1.3" fill="none"/><path d="M496.6,67.2 L501.8,72.4 M501.8,67.2 L496.6,72.4 M499.2,66.7 L499.2,72.9" stroke="#FFC000" stroke-width="1.3" fill="none"/><path d="M508.7,66.0 L513.9,71.2 M513.9,66.0 L508.7,71.2 M511.3,65.5 L511.3,71.7" stroke="#FFC000" stroke-width="1.3" fill="none"/><path d="M519.6,59.3 L524.8,64.5 M524.8,59.3 L519.6,64.5 M522.2,58.8 L522.2,65.0" stroke="#FFC000" stroke-width="1.3" fill="none"/><path d="M533.8,66.1 L539.0,71.3 M539.0,66.1 L533.8,71.3 M536.4,65.6 L536.4,71.8" stroke="#FFC000" stroke-width="1.3" fill="none"/><path d="M542.9,68.9 L548.1,74.1 M548.1,68.9 L542.9,74.1 M545.5,68.4 L545.5,74.6" stroke="#FFC000" stroke-width="1.3" fill="none"/><path d="M550.2,74.3 L555.4,79.5 M555.4,74.3 L550.2,79.5 M552.8,73.8 L552.8,80.0" stroke="#FFC000" stroke-width="1.3" fill="none"/><path d="M559.3,81.6 L564.5,86.8 M564.5,81.6 L559.3,86.8 M561.9,81.1 L561.9,87.3" stroke="#FFC000" stroke-width="1.3" fill="none"/><path d="M566.6,88.9 L571.8,94.1 M571.8,88.9 L566.6,94.1 M569.2,88.4 L569.2,94.6" stroke="#FFC000" stroke-width="1.3" fill="none"/><path d="M574.6,96.9 L579.8,102.1 M579.8,96.9 L574.6,102.1 M577.2,96.4 L577.2,102.6" stroke="#FFC000" stroke-width="1.3" fill="none"/><path d="M587.4,101.4 L592.6,106.6 M592.6,101.4 L587.4,106.6 M590.0,100.9 L590.0,107.1" stroke="#FFC000" stroke-width="1.3" fill="none"/><path d="M598.9,104.2 L604.1,109.4 M604.1,104.2 L598.9,109.4 M601.5,103.7 L601.5,109.9" stroke="#FFC000" stroke-width="1.3" fill="none"/><path d="M610.3,105.8 L615.5,111.0 M615.5,105.8 L610.3,111.0 M612.9,105.3 L612.9,111.5" stroke="#FFC000" stroke-width="1.3" fill="none"/><path d="M622.4,111.4 L627.6,116.6 M627.6,111.4 L622.4,116.6 M625.0,110.9 L625.0,117.1" stroke="#FFC000" stroke-width="1.3" fill="none"/><path d="M634.6,116.5 L639.8,121.7 M639.8,116.5 L634.6,121.7 M637.2,116.0 L637.2,122.2" stroke="#FFC000" stroke-width="1.3" fill="none"/><path d="M646.8,118.1 L652.0,123.3 M652.0,118.1 L646.8,123.3 M649.4,117.6 L649.4,123.8" stroke="#FFC000" stroke-width="1.3" fill="none"/><path d="M658.9,118.1 L664.1,123.3 M664.1,118.1 L658.9,123.3 M661.5,117.6 L661.5,123.8" stroke="#FFC000" stroke-width="1.3" fill="none"/><path d="M375.5,217.9 C387.9,186.5 391.4,168.6 406.4,139.3 C409.5,133.2 414.7,132.7 420.9,129.4 C427.6,125.9 431.6,125.2 438.6,122.3 C441.4,121.1 442.8,120.6 445.5,119.2 C452.5,115.4 455.6,112.5 462.8,109.2 C469.4,106.3 473.2,106.1 480.0,103.7 C487.4,101.1 492.5,101.1 498.3,96.6 C502.1,93.6 502.2,89.8 504.0,85.0 C506.9,77.0 506.2,70.7 510.1,64.4 C511.2,62.5 514.0,64.7 516.5,64.6 C519.4,64.4 521.0,63.5 523.8,63.6 C525.3,63.7 526.1,64.2 527.3,65.1 C529.9,67.0 531.0,68.2 533.5,70.4 C536.6,73.1 538.1,74.5 541.2,77.3 C543.1,79.0 543.8,80.4 546.0,81.6 C547.4,82.4 548.7,81.6 550.1,82.4 C553.6,84.5 554.9,86.4 558.3,88.8 C560.9,90.7 562.7,91.0 565.1,93.1 C567.7,95.3 568.4,97.1 570.8,99.5 C573.2,101.9 574.5,103.0 577.2,105.2 C579.4,107.0 581.2,107.1 582.9,109.3 C586.1,113.6 585.5,118.3 589.4,121.4 C592.9,124.1 596.8,122.4 601.5,123.8 C608.4,125.9 612.0,127.1 618.5,130.3 C621.5,131.7 622.1,134.5 625.1,135.3 C629.5,136.5 632.4,135.3 637.2,135.3 C642.1,135.3 644.5,135.3 649.4,135.3" stroke="#ED7D31" stroke-width="1.6" fill="none" stroke-linejoin="round" stroke-linecap="round"/><rect x="372.9" y="215.3" width="5.2" height="5.2" fill="#ED7D31"/><rect x="403.8" y="136.7" width="5.2" height="5.2" fill="#ED7D31"/><rect x="418.3" y="126.8" width="5.2" height="5.2" fill="#ED7D31"/><rect x="436.0" y="119.7" width="5.2" height="5.2" fill="#ED7D31"/><rect x="442.9" y="116.6" width="5.2" height="5.2" fill="#ED7D31"/><rect x="460.2" y="106.6" width="5.2" height="5.2" fill="#ED7D31"/><rect x="477.4" y="101.1" width="5.2" height="5.2" fill="#ED7D31"/><rect x="495.7" y="94.0" width="5.2" height="5.2" fill="#ED7D31"/><rect x="507.5" y="61.8" width="5.2" height="5.2" fill="#ED7D31"/><rect x="513.9" y="62.0" width="5.2" height="5.2" fill="#ED7D31"/><rect x="521.2" y="61.0" width="5.2" height="5.2" fill="#ED7D31"/><rect x="524.7" y="62.5" width="5.2" height="5.2" fill="#ED7D31"/><rect x="530.9" y="67.8" width="5.2" height="5.2" fill="#ED7D31"/><rect x="538.6" y="74.7" width="5.2" height="5.2" fill="#ED7D31"/><rect x="543.4" y="79.0" width="5.2" height="5.2" fill="#ED7D31"/><rect x="547.5" y="79.8" width="5.2" height="5.2" fill="#ED7D31"/><rect x="555.7" y="86.2" width="5.2" height="5.2" fill="#ED7D31"/><rect x="562.5" y="90.5" width="5.2" height="5.2" fill="#ED7D31"/><rect x="568.2" y="96.9" width="5.2" height="5.2" fill="#ED7D31"/><rect x="574.6" y="102.6" width="5.2" height="5.2" fill="#ED7D31"/><rect x="580.3" y="106.7" width="5.2" height="5.2" fill="#ED7D31"/><rect x="586.8" y="118.8" width="5.2" height="5.2" fill="#ED7D31"/><rect x="598.9" y="121.2" width="5.2" height="5.2" fill="#ED7D31"/><rect x="615.9" y="127.7" width="5.2" height="5.2" fill="#ED7D31"/><rect x="622.5" y="132.7" width="5.2" height="5.2" fill="#ED7D31"/><rect x="634.6" y="132.7" width="5.2" height="5.2" fill="#ED7D31"/><rect x="646.8" y="132.7" width="5.2" height="5.2" fill="#ED7D31"/><path d="M375.5,217.9 C383.7,186.7 387.2,171.0 396.0,140.0 C397.0,136.4 398.4,134.9 400.0,131.5 C401.5,128.3 401.7,126.4 403.6,123.5 C405.6,120.4 406.9,118.9 409.7,116.4 C412.3,114.1 414.1,113.6 417.0,111.6 C422.2,108.0 424.9,106.2 430.0,102.4 C435.6,98.3 438.9,96.8 443.7,91.9 C447.1,88.4 446.9,84.8 450.4,81.5 C454.5,77.6 457.5,76.2 462.8,73.7 C469.8,70.5 473.7,69.8 481.0,67.3 C488.3,64.8 492.2,64.3 499.2,61.3 C501.9,60.2 503.2,59.2 505.2,57.1 C507.9,54.3 508.6,52.2 511.0,49.0 C513.5,45.6 514.4,41.9 517.4,40.7 C519.5,39.9 521.3,42.6 523.7,44.1 C525.9,45.5 527.0,46.3 529.1,47.8 C534.2,51.4 536.4,54.0 541.9,56.9 C545.9,59.0 548.4,59.0 552.8,60.5 C557.7,62.2 560.3,62.7 565.1,64.7 C570.0,66.7 572.4,68.1 577.2,70.4 C581.1,72.3 583.2,73.1 587.0,75.2 C592.9,78.5 595.9,80.2 601.5,84.1 C604.4,86.1 605.1,88.4 608.1,90.0 C610.0,91.1 612.1,89.5 613.8,90.8 C616.3,92.8 616.0,96.3 618.6,98.1 C620.5,99.4 622.5,98.3 625.1,98.5" stroke="#A5A5A5" stroke-width="1.6" fill="none" stroke-linejoin="round" stroke-linecap="round"/><path d="M375.5,214.9 L378.5,220.2 L372.5,220.2Z" fill="#A5A5A5"/><path d="M403.6,120.5 L406.6,125.8 L400.6,125.8Z" fill="#A5A5A5"/><path d="M443.7,88.9 L446.7,94.2 L440.7,94.2Z" fill="#A5A5A5"/><path d="M450.4,78.5 L453.4,83.8 L447.4,83.8Z" fill="#A5A5A5"/><path d="M462.8,70.7 L465.8,76.0 L459.8,76.0Z" fill="#A5A5A5"/><path d="M481.0,64.3 L484.0,69.5 L478.0,69.5Z" fill="#A5A5A5"/><path d="M499.2,58.3 L502.2,63.5 L496.2,63.5Z" fill="#A5A5A5"/><path d="M505.2,54.1 L508.2,59.4 L502.2,59.4Z" fill="#A5A5A5"/><path d="M511.0,46.0 L514.0,51.2 L508.0,51.2Z" fill="#A5A5A5"/><path d="M517.4,37.7 L520.4,43.0 L514.4,43.0Z" fill="#A5A5A5"/><path d="M523.7,41.1 L526.7,46.4 L520.7,46.4Z" fill="#A5A5A5"/><path d="M529.1,44.8 L532.1,50.0 L526.1,50.0Z" fill="#A5A5A5"/><path d="M541.9,53.9 L544.9,59.1 L538.9,59.1Z" fill="#A5A5A5"/><path d="M552.8,57.5 L555.8,62.8 L549.8,62.8Z" fill="#A5A5A5"/><path d="M565.1,61.7 L568.1,67.0 L562.1,67.0Z" fill="#A5A5A5"/><path d="M577.2,67.4 L580.2,72.7 L574.2,72.7Z" fill="#A5A5A5"/><path d="M587.0,72.2 L590.0,77.5 L584.0,77.5Z" fill="#A5A5A5"/><path d="M601.5,81.1 L604.5,86.3 L598.5,86.3Z" fill="#A5A5A5"/><path d="M608.1,87.0 L611.1,92.2 L605.1,92.2Z" fill="#A5A5A5"/><path d="M613.8,87.8 L616.8,93.0 L610.8,93.0Z" fill="#A5A5A5"/><path d="M618.6,95.1 L621.6,100.3 L615.6,100.3Z" fill="#A5A5A5"/><path d="M625.1,95.5 L628.1,100.8 L622.1,100.8Z" fill="#A5A5A5"/><path d="M375.5,217.9 C387.7,185.9 391.2,168.0 406.0,137.8 C409.3,131.1 414.3,129.9 420.6,125.7 C427.0,121.5 430.9,120.4 437.7,116.8 C440.4,115.4 441.5,114.3 444.3,113.1 C449.0,111.1 451.9,111.1 456.5,108.9 C461.8,106.3 463.8,103.7 469.1,101.0 C473.6,98.7 476.2,98.1 481.0,96.4 C487.9,94.1 491.6,93.6 498.3,91.0 C501.0,89.9 502.1,88.6 504.7,87.3 C509.5,84.9 512.4,84.4 516.9,81.6 C519.9,79.7 521.1,78.1 523.6,75.5 C525.9,73.2 526.5,71.3 529.0,69.4 C530.6,68.2 531.9,67.8 533.9,67.6 C536.7,67.3 538.3,67.7 541.2,68.2 C543.0,68.5 543.9,68.9 545.5,69.6 C550.7,72.0 553.4,73.1 558.3,76.0 C561.2,77.7 562.4,78.9 565.1,80.9 C570.0,84.4 573.4,85.3 577.2,89.8 C580.6,93.8 578.9,99.1 582.9,102.0 C588.6,106.2 594.1,105.3 601.5,107.6 C606.5,109.2 609.5,109.2 613.8,111.8 C616.6,113.5 617.1,115.8 619.4,118.3 C621.6,120.7 622.7,121.8 625.1,124.0 C627.6,126.3 628.4,128.9 631.6,129.6 C638.2,131.1 642.3,129.4 649.4,129.6 C654.2,129.7 656.7,130.1 661.5,130.4" stroke="#70AD47" stroke-width="1.6" fill="none" stroke-linejoin="round" stroke-linecap="round"/><circle cx="375.5" cy="217.9" r="2.8" fill="#70AD47"/><circle cx="406.0" cy="137.8" r="2.8" fill="#70AD47"/><circle cx="420.6" cy="125.7" r="2.8" fill="#70AD47"/><circle cx="437.7" cy="116.8" r="2.8" fill="#70AD47"/><circle cx="444.3" cy="113.1" r="2.8" fill="#70AD47"/><circle cx="456.5" cy="108.9" r="2.8" fill="#70AD47"/><circle cx="469.1" cy="101.0" r="2.8" fill="#70AD47"/><circle cx="481.0" cy="96.4" r="2.8" fill="#70AD47"/><circle cx="498.3" cy="91.0" r="2.8" fill="#70AD47"/><circle cx="504.7" cy="87.3" r="2.8" fill="#70AD47"/><circle cx="516.9" cy="81.6" r="2.8" fill="#70AD47"/><circle cx="523.6" cy="75.5" r="2.8" fill="#70AD47"/><circle cx="529.0" cy="69.4" r="2.8" fill="#70AD47"/><circle cx="533.9" cy="67.6" r="2.8" fill="#70AD47"/><circle cx="541.2" cy="68.2" r="2.8" fill="#70AD47"/><circle cx="545.5" cy="69.6" r="2.8" fill="#70AD47"/><circle cx="558.3" cy="76.0" r="2.8" fill="#70AD47"/><circle cx="565.1" cy="80.9" r="2.8" fill="#70AD47"/><circle cx="577.2" cy="89.8" r="2.8" fill="#70AD47"/><circle cx="582.9" cy="102.0" r="2.8" fill="#70AD47"/><circle cx="601.5" cy="107.6" r="2.8" fill="#70AD47"/><circle cx="613.8" cy="111.8" r="2.8" fill="#70AD47"/><circle cx="619.4" cy="118.3" r="2.8" fill="#70AD47"/><circle cx="625.1" cy="124.0" r="2.8" fill="#70AD47"/><circle cx="631.6" cy="129.6" r="2.8" fill="#70AD47"/><circle cx="649.4" cy="129.6" r="2.8" fill="#70AD47"/><circle cx="661.5" cy="130.4" r="2.8" fill="#70AD47"/><path d="M375.5,217.9 C388.3,192.5 392.7,178.2 407.4,154.5 C410.7,149.2 414.8,148.1 420.5,145.5 C426.6,142.7 430.7,143.6 437.0,141.0 C440.5,139.6 441.6,137.1 445.0,135.5 C447.1,134.5 449.0,135.9 450.9,134.7 C453.6,133.0 454.0,130.7 456.4,128.3 C458.8,125.9 460.2,124.9 462.8,122.8 C465.2,120.9 466.8,120.4 469.1,118.3 C471.6,116.0 472.2,114.3 474.6,111.9 C477.0,109.5 478.0,107.5 481.0,106.4 C485.2,104.9 488.9,107.3 492.8,105.5 C495.8,104.1 495.2,99.9 498.3,98.3 C505.1,94.7 512.8,97.4 517.5,92.5 C521.7,88.1 518.8,81.8 520.5,75.0 C521.2,72.1 521.6,70.0 523.6,68.2 C525.1,66.8 526.9,67.2 529.1,66.9 C533.8,66.3 536.8,64.5 541.0,66.0 C546.3,67.8 548.3,71.2 552.8,75.1 C555.6,77.5 557.0,78.8 559.4,81.7 C561.6,84.4 561.7,86.8 564.3,89.0 C567.1,91.4 569.3,92.0 572.9,93.3 C577.1,94.9 579.8,94.2 583.7,96.3 C591.2,100.3 594.6,103.2 601.5,108.4 C606.3,112.0 608.5,114.2 613.0,118.3 C615.7,120.8 616.4,123.1 619.4,124.8 C621.6,126.0 623.3,125.5 625.9,125.6 C630.4,125.8 632.7,125.8 637.2,125.6 C642.1,125.4 644.5,125.1 649.4,124.8" stroke="#5B9BD5" stroke-width="1.6" fill="none" stroke-linejoin="round" stroke-linecap="round"/><path d="M375.5,214.9 L378.5,217.9 L375.5,220.9 L372.5,217.9Z" fill="#5B9BD5"/><path d="M407.4,151.5 L410.4,154.5 L407.4,157.5 L404.4,154.5Z" fill="#5B9BD5"/><path d="M420.5,142.5 L423.5,145.5 L420.5,148.5 L417.5,145.5Z" fill="#5B9BD5"/><path d="M437.0,138.0 L440.0,141.0 L437.0,144.0 L434.0,141.0Z" fill="#5B9BD5"/><path d="M445.0,132.5 L448.0,135.5 L445.0,138.5 L442.0,135.5Z" fill="#5B9BD5"/><path d="M450.9,131.7 L453.9,134.7 L450.9,137.7 L447.9,134.7Z" fill="#5B9BD5"/><path d="M456.4,125.3 L459.4,128.3 L456.4,131.3 L453.4,128.3Z" fill="#5B9BD5"/><path d="M462.8,119.8 L465.8,122.8 L462.8,125.8 L459.8,122.8Z" fill="#5B9BD5"/><path d="M469.1,115.3 L472.1,118.3 L469.1,121.3 L466.1,118.3Z" fill="#5B9BD5"/><path d="M474.6,108.9 L477.6,111.9 L474.6,114.9 L471.6,111.9Z" fill="#5B9BD5"/><path d="M481.0,103.4 L484.0,106.4 L481.0,109.4 L478.0,106.4Z" fill="#5B9BD5"/><path d="M492.8,102.5 L495.8,105.5 L492.8,108.5 L489.8,105.5Z" fill="#5B9BD5"/><path d="M498.3,95.3 L501.3,98.3 L498.3,101.3 L495.3,98.3Z" fill="#5B9BD5"/><path d="M517.5,89.5 L520.5,92.5 L517.5,95.5 L514.5,92.5Z" fill="#5B9BD5"/><path d="M523.6,65.2 L526.6,68.2 L523.6,71.2 L520.6,68.2Z" fill="#5B9BD5"/><path d="M529.1,63.9 L532.1,66.9 L529.1,69.9 L526.1,66.9Z" fill="#5B9BD5"/><path d="M541.0,63.0 L544.0,66.0 L541.0,69.0 L538.0,66.0Z" fill="#5B9BD5"/><path d="M552.8,72.1 L555.8,75.1 L552.8,78.1 L549.8,75.1Z" fill="#5B9BD5"/><path d="M559.4,78.7 L562.4,81.7 L559.4,84.7 L556.4,81.7Z" fill="#5B9BD5"/><path d="M564.3,86.0 L567.3,89.0 L564.3,92.0 L561.3,89.0Z" fill="#5B9BD5"/><path d="M572.9,90.3 L575.9,93.3 L572.9,96.3 L569.9,93.3Z" fill="#5B9BD5"/><path d="M583.7,93.3 L586.7,96.3 L583.7,99.3 L580.7,96.3Z" fill="#5B9BD5"/><path d="M601.5,105.4 L604.5,108.4 L601.5,111.4 L598.5,108.4Z" fill="#5B9BD5"/><path d="M613.0,115.3 L616.0,118.3 L613.0,121.3 L610.0,118.3Z" fill="#5B9BD5"/><path d="M619.4,121.8 L622.4,124.8 L619.4,127.8 L616.4,124.8Z" fill="#5B9BD5"/><path d="M625.9,122.6 L628.9,125.6 L625.9,128.6 L622.9,125.6Z" fill="#5B9BD5"/><path d="M637.2,122.6 L640.2,125.6 L637.2,128.6 L634.2,125.6Z" fill="#5B9BD5"/><path d="M649.4,121.8 L652.4,124.8 L649.4,127.8 L646.4,124.8Z" fill="#5B9BD5"/><line x1="500.1" y1="120.0" x2="513.5" y2="120.0" stroke="#9E480E" stroke-width="1.6"/><circle cx="506.8" cy="120.0" r="1.8" fill="#9E480E"/><text x="515.1" y="122.7" font-size="7.9" text-anchor="start" font-family="Liberation Serif" font-weight="bold" fill="#000" >L140 2H 8D</text><line x1="500.1" y1="130.9" x2="513.5" y2="130.9" stroke="#4472C4" stroke-width="1.6"/><path d="M504.4,128.5 L509.2,133.3 M509.2,128.5 L504.4,133.3" stroke="#4472C4" stroke-width="1.9" fill="none"/><text x="515.1" y="133.6" font-size="7.9" text-anchor="start" font-family="Liberation Serif" font-weight="bold" fill="#000" >L140 2H 10D</text><line x1="500.1" y1="141.9" x2="513.5" y2="141.9" stroke="#636363" stroke-width="1.6"/><rect x="504.3" y="140.7" width="5.0" height="2.4" fill="#636363"/><text x="515.1" y="144.6" font-size="7.9" text-anchor="start" font-family="Liberation Serif" font-weight="bold" fill="#000" >L140 2H 12D</text><line x1="500.1" y1="152.8" x2="513.5" y2="152.8" stroke="#255E91" stroke-width="1.6"/><path d="M506.8,150.8 L508.8,152.8 L506.8,154.8 L504.8,152.8Z" fill="#255E91"/><text x="515.1" y="155.5" font-size="7.9" text-anchor="start" font-family="Liberation Serif" font-weight="bold" fill="#000" >L140 4H 8D</text><line x1="500.1" y1="163.8" x2="513.5" y2="163.8" stroke="#FFC000" stroke-width="1.6"/><path d="M504.2,161.2 L509.4,166.4 M509.4,161.2 L504.2,166.4 M506.8,160.7 L506.8,166.9" stroke="#FFC000" stroke-width="1.3" fill="none"/><text x="515.1" y="166.5" font-size="7.9" text-anchor="start" font-family="Liberation Serif" font-weight="bold" fill="#000" >L140 4H 10D</text><line x1="500.1" y1="174.8" x2="513.5" y2="174.8" stroke="#ED7D31" stroke-width="1.6"/><rect x="504.2" y="172.2" width="5.2" height="5.2" fill="#ED7D31"/><text x="515.1" y="177.4" font-size="7.9" text-anchor="start" font-family="Liberation Serif" font-weight="bold" fill="#000" >L140 4H 12D</text><line x1="500.1" y1="185.7" x2="513.5" y2="185.7" stroke="#A5A5A5" stroke-width="1.6"/><path d="M506.8,182.7 L509.8,187.9 L503.8,187.9Z" fill="#A5A5A5"/><text x="515.1" y="188.4" font-size="7.9" text-anchor="start" font-family="Liberation Serif" font-weight="bold" fill="#000" >L140 6H 8D</text><line x1="500.1" y1="196.6" x2="513.5" y2="196.6" stroke="#70AD47" stroke-width="1.6"/><circle cx="506.8" cy="196.6" r="2.8" fill="#70AD47"/><text x="515.1" y="199.3" font-size="7.9" text-anchor="start" font-family="Liberation Serif" font-weight="bold" fill="#000" >L140 6H 10D</text><line x1="500.1" y1="207.6" x2="513.5" y2="207.6" stroke="#5B9BD5" stroke-width="1.6"/><path d="M506.8,204.6 L509.8,207.6 L506.8,210.6 L503.8,207.6Z" fill="#5B9BD5"/><text x="515.1" y="210.3" font-size="7.9" text-anchor="start" font-family="Liberation Serif" font-weight="bold" fill="#000" >L140 6H 12D</text>
<line x1="182.6" y1="248.8" x2="182.6" y2="494.2" stroke="#222" stroke-width="1.4"/><line x1="181.9" y1="249.5" x2="526.6" y2="249.5" stroke="#222" stroke-width="1.4"/><line x1="525.9" y1="248.8" x2="525.9" y2="494.2" stroke="#777" stroke-width="1.4"/><line x1="181.9" y1="493.5" x2="526.6" y2="493.5" stroke="#111" stroke-width="1.4"/><line x1="217.6" y1="254.64999999999998" x2="217.6" y2="466.4" stroke="#222" stroke-width="1.3"/><line x1="217.6" y1="466.4" x2="518.6" y2="466.4" stroke="#222" stroke-width="1.3"/><text x="209.4" y="469.6" font-size="9.2" text-anchor="end" font-family="Liberation Serif" font-weight="bold" fill="#000" >0</text><text x="209.4" y="439.3" font-size="9.2" text-anchor="end" font-family="Liberation Serif" font-weight="bold" fill="#000" >5</text><text x="209.4" y="409.1" font-size="9.2" text-anchor="end" font-family="Liberation Serif" font-weight="bold" fill="#000" >10</text><text x="209.4" y="378.8" font-size="9.2" text-anchor="end" font-family="Liberation Serif" font-weight="bold" fill="#000" >15</text><text x="209.4" y="348.6" font-size="9.2" text-anchor="end" font-family="Liberation Serif" font-weight="bold" fill="#000" >20</text><text x="209.4" y="318.3" font-size="9.2" text-anchor="end" font-family="Liberation Serif" font-weight="bold" fill="#000" >25</text><text x="209.4" y="288.1" font-size="9.2" text-anchor="end" font-family="Liberation Serif" font-weight="bold" fill="#000" >30</text><text x="209.4" y="257.8" font-size="9.2" text-anchor="end" font-family="Liberation Serif" font-weight="bold" fill="#000" >35</text><text x="217.6" y="481.0" font-size="9.2" text-anchor="middle" font-family="Liberation Serif" font-weight="bold" fill="#000" >0</text><text x="277.8" y="481.0" font-size="9.2" text-anchor="middle" font-family="Liberation Serif" font-weight="bold" fill="#000" >1</text><text x="338.0" y="481.0" font-size="9.2" text-anchor="middle" font-family="Liberation Serif" font-weight="bold" fill="#000" >2</text><text x="398.2" y="481.0" font-size="9.2" text-anchor="middle" font-family="Liberation Serif" font-weight="bold" fill="#000" >3</text><text x="458.4" y="481.0" font-size="9.2" text-anchor="middle" font-family="Liberation Serif" font-weight="bold" fill="#000" >4</text><text x="518.6" y="481.0" font-size="9.2" text-anchor="middle" font-family="Liberation Serif" font-weight="bold" fill="#000" >5</text><text x="330.05" y="489.6" font-size="9.2" text-anchor="middle" font-family="Liberation Serif" font-weight="bold" fill="#000" textLength="175.7" lengthAdjust="spacingAndGlyphs">Quasi static compressive displacement (mm)</text><g transform="translate(192.7,362.4) rotate(-90)"><text x="0" y="0" font-size="9.2" text-anchor="middle" font-family="Liberation Serif" font-weight="bold" fill="#000" textLength="136.2" lengthAdjust="spacingAndGlyphs">Quasi static compressive load (kN)</text></g><path d="M217.6,466.4 C230.6,431.0 236.0,412.8 250.0,378.0 C251.4,374.4 253.9,373.7 256.1,370.5 C260.0,364.7 260.8,360.5 265.2,355.4 C266.9,353.5 269.2,354.4 271.3,352.8 C277.2,348.2 279.2,344.7 285.0,340.0 C290.0,336.0 293.1,334.7 298.3,331.0 C303.3,327.5 305.4,325.2 310.5,321.8 C315.2,318.6 318.1,317.8 322.7,314.5 C327.8,310.7 329.5,307.5 334.8,304.0 C338.8,301.3 341.4,300.8 346.0,299.0 C348.9,297.9 350.7,298.1 353.4,296.7 C355.6,295.6 356.1,293.9 358.3,292.7 C359.6,292.0 360.7,291.5 362.0,292.0 C365.3,293.4 366.7,295.2 369.7,297.5 C374.7,301.2 377.2,303.0 382.0,307.0 C387.0,311.1 389.4,313.3 394.0,317.8 C396.8,320.5 398.4,321.9 400.5,325.1 C403.3,329.3 403.4,332.3 406.2,336.4 C407.9,338.8 410.0,339.0 411.8,341.3 C414.7,345.2 415.6,347.7 418.0,352.0 C420.7,356.8 421.6,359.5 424.7,364.0 C426.6,366.7 428.1,367.7 430.5,369.9 C432.9,372.1 434.0,374.0 436.9,375.1 C439.0,375.9 440.6,374.0 442.8,374.5 C445.5,375.1 446.4,377.5 449.2,378.0 C453.7,378.9 456.3,377.7 460.9,378.0 C463.3,378.2 464.4,378.6 466.7,379.2 C469.3,379.8 470.6,380.3 473.2,381.0" stroke="#5B9BD5" stroke-width="1.6" fill="none" stroke-linejoin="round" stroke-linecap="round"/><path d="M217.6,463.4 L220.6,466.4 L217.6,469.4 L214.6,466.4Z" fill="#5B9BD5"/><path d="M250.0,375.0 L253.0,378.0 L250.0,381.0 L247.0,378.0Z" fill="#5B9BD5"/><path d="M256.1,367.5 L259.1,370.5 L256.1,373.5 L253.1,370.5Z" fill="#5B9BD5"/><path d="M265.2,352.4 L268.2,355.4 L265.2,358.4 L262.2,355.4Z" fill="#5B9BD5"/><path d="M271.3,349.8 L274.3,352.8 L271.3,355.8 L268.3,352.8Z" fill="#5B9BD5"/><path d="M285.0,337.0 L288.0,340.0 L285.0,343.0 L282.0,340.0Z" fill="#5B9BD5"/><path d="M298.3,328.0 L301.3,331.0 L298.3,334.0 L295.3,331.0Z" fill="#5B9BD5"/><path d="M310.5,318.8 L313.5,321.8 L310.5,324.8 L307.5,321.8Z" fill="#5B9BD5"/><path d="M322.7,311.5 L325.7,314.5 L322.7,317.5 L319.7,314.5Z" fill="#5B9BD5"/><path d="M334.8,301.0 L337.8,304.0 L334.8,307.0 L331.8,304.0Z" fill="#5B9BD5"/><path d="M346.0,296.0 L349.0,299.0 L346.0,302.0 L343.0,299.0Z" fill="#5B9BD5"/><path d="M353.4,293.7 L356.4,296.7 L353.4,299.7 L350.4,296.7Z" fill="#5B9BD5"/><path d="M358.3,289.7 L361.3,292.7 L358.3,295.7 L355.3,292.7Z" fill="#5B9BD5"/><path d="M362.0,289.0 L365.0,292.0 L362.0,295.0 L359.0,292.0Z" fill="#5B9BD5"/><path d="M369.7,294.5 L372.7,297.5 L369.7,300.5 L366.7,297.5Z" fill="#5B9BD5"/><path d="M394.0,314.8 L397.0,317.8 L394.0,320.8 L391.0,317.8Z" fill="#5B9BD5"/><path d="M400.5,322.1 L403.5,325.1 L400.5,328.1 L397.5,325.1Z" fill="#5B9BD5"/><path d="M406.2,333.4 L409.2,336.4 L406.2,339.4 L403.2,336.4Z" fill="#5B9BD5"/><path d="M411.8,338.3 L414.8,341.3 L411.8,344.3 L408.8,341.3Z" fill="#5B9BD5"/><path d="M418.0,349.0 L421.0,352.0 L418.0,355.0 L415.0,352.0Z" fill="#5B9BD5"/><path d="M424.7,361.0 L427.7,364.0 L424.7,367.0 L421.7,364.0Z" fill="#5B9BD5"/><path d="M430.5,366.9 L433.5,369.9 L430.5,372.9 L427.5,369.9Z" fill="#5B9BD5"/><path d="M436.9,372.1 L439.9,375.1 L436.9,378.1 L433.9,375.1Z" fill="#5B9BD5"/><path d="M442.8,371.5 L445.8,374.5 L442.8,377.5 L439.8,374.5Z" fill="#5B9BD5"/><path d="M449.2,375.0 L452.2,378.0 L449.2,381.0 L446.2,378.0Z" fill="#5B9BD5"/><path d="M460.9,375.0 L463.9,378.0 L460.9,381.0 L457.9,378.0Z" fill="#5B9BD5"/><path d="M466.7,376.2 L469.7,379.2 L466.7,382.2 L463.7,379.2Z" fill="#5B9BD5"/><path d="M473.2,378.0 L476.2,381.0 L473.2,384.0 L470.2,381.0Z" fill="#5B9BD5"/><path d="M217.6,466.4 C229.9,434.6 233.9,417.2 248.4,387.0 C251.5,380.6 255.6,378.6 261.6,374.9 C268.2,370.9 272.4,370.2 279.8,367.8 C282.3,367.0 283.9,367.8 286.2,366.8 C288.9,365.7 290.1,364.4 292.5,362.6 C296.2,359.8 298.3,358.6 301.5,355.3 C306.0,350.7 307.4,347.5 311.7,342.7 C316.5,337.4 319.7,335.4 324.4,330.0 C328.0,325.8 328.9,323.0 332.4,318.6 C336.7,313.2 338.7,310.2 343.7,305.6 C346.4,303.1 349.1,303.3 351.8,300.8 C354.5,298.3 354.8,296.0 357.0,293.0 C359.3,289.9 360.2,287.4 363.2,285.4 C364.6,284.4 366.7,284.3 368.0,285.5 C371.9,289.1 372.7,292.9 376.2,297.5 C378.6,300.6 379.7,302.4 382.7,304.8 C385.6,307.0 387.6,307.5 391.0,309.0 C394.7,310.7 396.8,311.1 400.5,312.9 C403.9,314.6 405.7,315.5 408.6,317.8 C410.5,319.3 410.6,321.1 412.6,322.6 C416.7,325.6 418.8,328.1 423.7,329.1 C430.9,330.6 435.2,328.9 442.8,328.8 C452.6,328.7 458.9,326.7 467.4,328.8 C470.1,329.5 468.7,334.3 471.0,335.8 C473.1,337.2 475.4,336.0 478.4,336.0 C480.9,336.0 482.1,336.0 484.6,336.0 C486.9,336.0 488.0,336.0 490.3,336.0 C493.0,336.0 494.3,336.0 497.0,336.0 C499.6,336.0 500.9,336.0 503.5,336.0" stroke="#666666" stroke-width="1.1" fill="none" stroke-linejoin="round" stroke-linecap="round"/><rect x="215.1" y="465.2" width="5.0" height="2.4" fill="#666666"/><rect x="245.9" y="385.8" width="5.0" height="2.4" fill="#666666"/><rect x="259.1" y="373.7" width="5.0" height="2.4" fill="#666666"/><rect x="277.3" y="366.6" width="5.0" height="2.4" fill="#666666"/><rect x="283.7" y="365.6" width="5.0" height="2.4" fill="#666666"/><rect x="290.0" y="361.4" width="5.0" height="2.4" fill="#666666"/><rect x="309.2" y="341.5" width="5.0" height="2.4" fill="#666666"/><rect x="321.9" y="328.8" width="5.0" height="2.4" fill="#666666"/><rect x="329.9" y="317.4" width="5.0" height="2.4" fill="#666666"/><rect x="341.2" y="304.4" width="5.0" height="2.4" fill="#666666"/><rect x="349.3" y="299.6" width="5.0" height="2.4" fill="#666666"/><rect x="354.5" y="291.8" width="5.0" height="2.4" fill="#666666"/><rect x="360.7" y="284.2" width="5.0" height="2.4" fill="#666666"/><rect x="365.5" y="284.3" width="5.0" height="2.4" fill="#666666"/><rect x="373.7" y="296.3" width="5.0" height="2.4" fill="#666666"/><rect x="380.2" y="303.6" width="5.0" height="2.4" fill="#666666"/><rect x="388.5" y="307.8" width="5.0" height="2.4" fill="#666666"/><rect x="398.0" y="311.7" width="5.0" height="2.4" fill="#666666"/><rect x="406.1" y="316.6" width="5.0" height="2.4" fill="#666666"/><rect x="410.1" y="321.4" width="5.0" height="2.4" fill="#666666"/><rect x="421.2" y="327.9" width="5.0" height="2.4" fill="#666666"/><rect x="440.3" y="327.6" width="5.0" height="2.4" fill="#666666"/><rect x="464.9" y="327.6" width="5.0" height="2.4" fill="#666666"/><rect x="468.5" y="334.6" width="5.0" height="2.4" fill="#666666"/><rect x="475.9" y="334.8" width="5.0" height="2.4" fill="#666666"/><rect x="482.1" y="334.8" width="5.0" height="2.4" fill="#666666"/><rect x="487.8" y="334.8" width="5.0" height="2.4" fill="#666666"/><rect x="501.0" y="334.8" width="5.0" height="2.4" fill="#666666"/><path d="M217.6,466.4 C226.8,443.8 231.2,432.5 240.5,410.0 C243.0,404.0 244.2,400.9 247.0,395.0 C250.0,388.7 251.8,385.8 255.0,379.6 C258.2,373.4 258.9,369.6 262.8,364.0 C265.0,360.9 267.0,359.8 270.3,357.9 C274.0,355.8 276.4,355.6 280.5,354.1 C285.6,352.3 288.5,352.2 293.2,349.8 C295.8,348.5 296.3,346.2 298.9,344.9 C300.9,343.9 302.5,344.9 304.6,344.2 C307.6,343.2 308.9,342.0 311.7,340.6 C316.2,338.3 318.6,337.4 323.0,335.0 C328.8,331.9 331.4,329.7 337.2,326.7 C341.6,324.4 344.4,324.3 348.6,321.8 C350.9,320.4 352.0,319.3 353.4,317.0 C355.9,313.1 356.6,310.8 358.3,306.4 C359.7,302.8 359.5,300.5 361.0,297.0 C361.7,295.3 362.8,293.1 364.0,293.5 C366.2,294.3 368.0,297.0 369.6,300.0 C371.6,303.8 370.9,306.6 373.0,310.5 C376.7,317.4 379.5,320.5 384.0,327.0 C388.9,334.1 390.9,338.2 396.4,344.5 C397.5,345.8 398.8,345.9 400.5,346.1 C410.4,347.2 415.5,347.4 425.5,347.7 C439.3,348.1 446.7,346.3 460.1,347.7 C463.1,348.0 463.7,350.9 466.5,351.9 C469.5,353.0 471.4,352.4 474.7,352.8" stroke="#9E480E" stroke-width="1.6" fill="none" stroke-linejoin="round" stroke-linecap="round"/><path d="M217.6,466.4 C242.8,430.0 254.4,410.0 280.5,375.3 C281.8,373.5 283.9,375.3 286.2,375.3 C288.7,375.3 290.3,376.2 292.5,375.3 C295.1,374.2 295.6,371.6 298.2,370.4 C300.4,369.4 302.4,370.8 304.6,369.7 C307.2,368.5 308.0,366.7 310.2,364.7 C312.5,362.7 313.5,361.5 315.9,359.7 C319.8,356.8 321.9,355.6 326.0,353.0 C329.8,350.5 332.2,349.8 335.7,347.0 C337.3,345.7 337.0,344.0 338.6,342.7 C342.2,339.8 344.7,339.0 348.6,336.4 C351.9,334.2 353.5,333.1 356.7,330.7 C360.0,328.2 361.8,327.1 364.8,324.3 C367.6,321.6 368.9,320.1 371.3,317.0 C372.8,315.2 372.9,312.3 374.5,312.1 C376.4,311.9 377.9,314.4 380.0,316.0 C383.7,318.9 386.4,319.7 389.1,323.4 C392.0,327.3 392.0,330.3 394.0,334.8 C396.3,340.0 396.7,343.1 399.7,347.7 C401.1,349.9 402.9,350.3 405.0,352.0 C408.1,354.5 409.3,356.6 412.8,358.3 C415.3,359.5 417.2,358.5 420.0,359.2 C423.3,360.0 424.8,360.9 428.0,362.0 C430.9,363.0 432.2,364.0 435.2,364.6 C437.2,365.0 438.3,364.6 440.4,364.6" stroke="#ED7D31" stroke-width="1.6" fill="none" stroke-linejoin="round" stroke-linecap="round"/><rect x="215.0" y="463.8" width="5.2" height="5.2" fill="#ED7D31"/><rect x="277.9" y="372.7" width="5.2" height="5.2" fill="#ED7D31"/><rect x="283.6" y="372.7" width="5.2" height="5.2" fill="#ED7D31"/><rect x="289.9" y="372.7" width="5.2" height="5.2" fill="#ED7D31"/><rect x="295.6" y="367.8" width="5.2" height="5.2" fill="#ED7D31"/><rect x="302.0" y="367.1" width="5.2" height="5.2" fill="#ED7D31"/><rect x="307.6" y="362.1" width="5.2" height="5.2" fill="#ED7D31"/><rect x="313.3" y="357.1" width="5.2" height="5.2" fill="#ED7D31"/><rect x="333.1" y="344.4" width="5.2" height="5.2" fill="#ED7D31"/><rect x="336.0" y="340.1" width="5.2" height="5.2" fill="#ED7D31"/><rect x="346.0" y="333.8" width="5.2" height="5.2" fill="#ED7D31"/><rect x="354.1" y="328.1" width="5.2" height="5.2" fill="#ED7D31"/><rect x="362.2" y="321.7" width="5.2" height="5.2" fill="#ED7D31"/><rect x="368.7" y="314.4" width="5.2" height="5.2" fill="#ED7D31"/><rect x="371.9" y="309.5" width="5.2" height="5.2" fill="#ED7D31"/><rect x="377.4" y="313.4" width="5.2" height="5.2" fill="#ED7D31"/><rect x="386.5" y="320.8" width="5.2" height="5.2" fill="#ED7D31"/><rect x="391.4" y="332.2" width="5.2" height="5.2" fill="#ED7D31"/><rect x="397.1" y="345.1" width="5.2" height="5.2" fill="#ED7D31"/><rect x="402.4" y="349.4" width="5.2" height="5.2" fill="#ED7D31"/><rect x="410.2" y="355.7" width="5.2" height="5.2" fill="#ED7D31"/><rect x="417.4" y="356.6" width="5.2" height="5.2" fill="#ED7D31"/><rect x="425.4" y="359.4" width="5.2" height="5.2" fill="#ED7D31"/><rect x="432.6" y="362.0" width="5.2" height="5.2" fill="#ED7D31"/><rect x="437.8" y="362.0" width="5.2" height="5.2" fill="#ED7D31"/><path d="M217.6,466.4 C229.0,430.0 233.1,411.0 246.2,375.4 C249.0,367.8 252.8,365.1 257.5,358.4 C259.9,354.9 261.0,353.0 264.0,350.0 C268.2,345.7 270.5,343.3 275.4,340.2 C276.7,339.4 277.9,340.6 279.4,340.2 C284.3,338.9 286.6,337.4 291.6,336.1 C296.9,334.7 299.7,334.9 305.0,333.6 C309.6,332.4 312.5,332.6 316.2,329.9 C321.8,325.9 322.9,321.4 328.3,317.0 C332.9,313.3 336.0,312.5 341.3,309.7 C343.5,308.5 345.3,308.9 347.0,307.2 C349.8,304.3 350.2,301.8 352.6,298.3 C354.4,295.6 355.1,293.8 357.5,291.9 C359.3,290.5 361.4,291.6 363.2,290.2 C366.3,287.7 366.9,282.6 369.7,282.1 C372.1,281.7 373.7,285.4 376.2,287.8 C378.9,290.3 379.9,292.0 382.7,294.3 C387.3,298.1 389.8,299.9 394.8,303.2 C401.7,307.7 405.2,310.1 412.6,313.7 C417.2,315.9 419.8,316.7 424.8,317.8 C428.6,318.6 430.6,318.3 434.5,318.6 C437.8,318.8 439.7,318.2 442.8,319.1 C447.7,320.6 449.7,323.1 454.6,324.6 C457.0,325.3 458.4,324.6 461.0,324.6 C463.6,324.6 464.8,324.6 467.4,324.6" stroke="#4472C4" stroke-width="1.6" fill="none" stroke-linejoin="round" stroke-linecap="round"/><path d="M215.2,464.0 L220.0,468.8 M220.0,464.0 L215.2,468.8" stroke="#4472C4" stroke-width="1.9" fill="none"/><path d="M243.8,373.0 L248.6,377.8 M248.6,373.0 L243.8,377.8" stroke="#4472C4" stroke-width="1.9" fill="none"/><path d="M255.1,356.0 L259.9,360.8 M259.9,356.0 L255.1,360.8" stroke="#4472C4" stroke-width="1.9" fill="none"/><path d="M261.6,347.6 L266.4,352.4 M266.4,347.6 L261.6,352.4" stroke="#4472C4" stroke-width="1.9" fill="none"/><path d="M273.0,337.8 L277.8,342.6 M277.8,337.8 L273.0,342.6" stroke="#4472C4" stroke-width="1.9" fill="none"/><path d="M277.0,337.8 L281.8,342.6 M281.8,337.8 L277.0,342.6" stroke="#4472C4" stroke-width="1.9" fill="none"/><path d="M289.2,333.7 L294.0,338.5 M294.0,333.7 L289.2,338.5" stroke="#4472C4" stroke-width="1.9" fill="none"/><path d="M302.6,331.2 L307.4,336.0 M307.4,331.2 L302.6,336.0" stroke="#4472C4" stroke-width="1.9" fill="none"/><path d="M313.8,327.5 L318.6,332.3 M318.6,327.5 L313.8,332.3" stroke="#4472C4" stroke-width="1.9" fill="none"/><path d="M325.9,314.6 L330.7,319.4 M330.7,314.6 L325.9,319.4" stroke="#4472C4" stroke-width="1.9" fill="none"/><path d="M338.9,307.3 L343.7,312.1 M343.7,307.3 L338.9,312.1" stroke="#4472C4" stroke-width="1.9" fill="none"/><path d="M344.6,304.8 L349.4,309.6 M349.4,304.8 L344.6,309.6" stroke="#4472C4" stroke-width="1.9" fill="none"/><path d="M350.2,295.9 L355.0,300.7 M355.0,295.9 L350.2,300.7" stroke="#4472C4" stroke-width="1.9" fill="none"/><path d="M355.1,289.5 L359.9,294.3 M359.9,289.5 L355.1,294.3" stroke="#4472C4" stroke-width="1.9" fill="none"/><path d="M360.8,287.8 L365.6,292.6 M365.6,287.8 L360.8,292.6" stroke="#4472C4" stroke-width="1.9" fill="none"/><path d="M367.3,279.7 L372.1,284.5 M372.1,279.7 L367.3,284.5" stroke="#4472C4" stroke-width="1.9" fill="none"/><path d="M373.8,285.4 L378.6,290.2 M378.6,285.4 L373.8,290.2" stroke="#4472C4" stroke-width="1.9" fill="none"/><path d="M380.3,291.9 L385.1,296.7 M385.1,291.9 L380.3,296.7" stroke="#4472C4" stroke-width="1.9" fill="none"/><path d="M392.4,300.8 L397.2,305.6 M397.2,300.8 L392.4,305.6" stroke="#4472C4" stroke-width="1.9" fill="none"/><path d="M410.2,311.3 L415.0,316.1 M415.0,311.3 L410.2,316.1" stroke="#4472C4" stroke-width="1.9" fill="none"/><path d="M422.4,315.4 L427.2,320.2 M427.2,315.4 L422.4,320.2" stroke="#4472C4" stroke-width="1.9" fill="none"/><path d="M432.1,316.2 L436.9,321.0 M436.9,316.2 L432.1,321.0" stroke="#4472C4" stroke-width="1.9" fill="none"/><path d="M440.4,316.7 L445.2,321.5 M445.2,316.7 L440.4,321.5" stroke="#4472C4" stroke-width="1.9" fill="none"/><path d="M452.2,322.2 L457.0,327.0 M457.0,322.2 L452.2,327.0" stroke="#4472C4" stroke-width="1.9" fill="none"/><path d="M458.6,322.2 L463.4,327.0 M463.4,322.2 L458.6,327.0" stroke="#4472C4" stroke-width="1.9" fill="none"/><path d="M465.0,322.2 L469.8,327.0 M469.8,322.2 L465.0,327.0" stroke="#4472C4" stroke-width="1.9" fill="none"/><path d="M217.6,466.4 C218.6,455.8 219.0,450.6 220.0,440.0 C221.0,428.8 221.2,423.2 222.6,412.0 C223.8,402.2 223.7,396.9 226.5,387.5 C228.7,380.0 231.0,376.4 235.2,369.8 C238.6,364.5 241.0,362.3 245.4,357.7 C249.2,353.8 251.4,352.2 255.5,348.6 C258.3,346.1 259.7,344.8 262.6,342.5 C266.9,339.1 269.5,337.9 273.7,334.4 C276.8,331.8 278.4,330.5 280.8,327.3 C283.3,323.9 282.5,319.9 285.9,317.8 C291.8,314.2 296.8,315.0 304.0,313.2 C307.3,312.4 309.3,312.7 312.2,311.1 C316.6,308.8 317.8,305.6 322.3,303.5 C329.1,300.4 334.0,301.6 340.5,298.3 C343.8,296.6 343.7,292.8 347.0,291.1 C352.1,288.6 355.7,289.0 361.5,287.8 C365.1,287.1 367.0,287.1 370.5,286.2 C375.5,284.9 377.7,282.1 382.7,282.1 C390.1,282.1 394.5,283.1 401.3,286.2 C410.2,290.2 413.8,294.3 421.9,300.0 C425.7,302.7 427.0,304.9 431.0,307.3 C435.4,309.9 439.6,308.6 442.8,312.4 C451.6,322.8 452.7,332.5 461.0,342.8 C462.5,344.7 464.8,342.8 467.4,342.8 C476.2,342.8 480.5,342.8 489.3,342.8" stroke="#70AD47" stroke-width="1.6" fill="none" stroke-linejoin="round" stroke-linecap="round"/><circle cx="217.6" cy="466.4" r="2.8" fill="#70AD47"/><circle cx="226.5" cy="387.5" r="2.8" fill="#70AD47"/><circle cx="262.6" cy="342.5" r="2.8" fill="#70AD47"/><circle cx="273.7" cy="334.4" r="2.8" fill="#70AD47"/><circle cx="280.8" cy="327.3" r="2.8" fill="#70AD47"/><circle cx="285.9" cy="317.8" r="2.8" fill="#70AD47"/><circle cx="304.0" cy="313.2" r="2.8" fill="#70AD47"/><circle cx="312.2" cy="311.1" r="2.8" fill="#70AD47"/><circle cx="322.3" cy="303.5" r="2.8" fill="#70AD47"/><circle cx="340.5" cy="298.3" r="2.8" fill="#70AD47"/><circle cx="347.0" cy="291.1" r="2.8" fill="#70AD47"/><circle cx="361.5" cy="287.8" r="2.8" fill="#70AD47"/><circle cx="370.5" cy="286.2" r="2.8" fill="#70AD47"/><circle cx="382.7" cy="282.1" r="2.8" fill="#70AD47"/><circle cx="401.3" cy="286.2" r="2.8" fill="#70AD47"/><circle cx="431.0" cy="307.3" r="2.8" fill="#70AD47"/><circle cx="442.8" cy="312.4" r="2.8" fill="#70AD47"/><circle cx="461.0" cy="342.8" r="2.8" fill="#70AD47"/><circle cx="467.4" cy="342.8" r="2.8" fill="#70AD47"/><circle cx="489.3" cy="342.8" r="2.8" fill="#70AD47"/><path d="M217.6,466.4 C231.8,428.6 235.7,407.8 253.1,372.0 C258.5,361.0 265.4,357.7 274.4,349.3 C276.4,347.5 278.7,348.3 280.5,346.4 C287.6,338.8 289.7,333.4 296.6,325.5 C299.4,322.4 302.4,322.2 304.8,318.9 C307.9,314.6 307.3,310.8 310.5,306.4 C314.5,300.9 318.1,299.4 322.7,294.3 C327.8,288.7 328.8,282.7 334.8,279.7 C339.2,277.5 343.2,280.1 348.6,281.3 C353.9,282.4 356.5,283.5 361.5,285.4 C364.9,286.7 366.7,287.4 369.7,289.4 C374.1,292.4 375.9,294.5 380.0,298.0 C385.0,302.3 387.1,305.0 392.4,308.9 C394.7,310.6 397.2,310.0 398.9,312.1 C401.4,315.2 401.3,318.1 403.0,322.0 C404.7,326.0 405.4,328.0 407.3,331.9 C409.3,336.0 410.0,338.4 412.8,341.9 C414.4,343.9 416.6,343.5 418.2,345.5 C423.7,352.6 425.5,357.0 430.5,364.6 C432.8,368.1 433.6,370.3 436.4,373.4 C438.6,375.9 440.9,376.0 442.8,378.6 C445.8,382.7 444.9,387.8 448.6,390.3 C452.1,392.7 456.0,390.7 460.9,390.9 C463.2,391.0 464.4,390.9 466.7,390.9 C469.3,390.9 470.6,390.9 473.2,390.9" stroke="#A5A5A5" stroke-width="1.6" fill="none" stroke-linejoin="round" stroke-linecap="round"/><path d="M217.6,463.4 L220.6,468.6 L214.6,468.6Z" fill="#A5A5A5"/><path d="M253.1,369.0 L256.1,374.2 L250.1,374.2Z" fill="#A5A5A5"/><path d="M274.4,346.3 L277.4,351.6 L271.4,351.6Z" fill="#A5A5A5"/><path d="M280.5,343.4 L283.5,348.6 L277.5,348.6Z" fill="#A5A5A5"/><path d="M296.6,322.5 L299.6,327.8 L293.6,327.8Z" fill="#A5A5A5"/><path d="M304.8,315.9 L307.8,321.1 L301.8,321.1Z" fill="#A5A5A5"/><path d="M310.5,303.4 L313.5,308.6 L307.5,308.6Z" fill="#A5A5A5"/><path d="M322.7,291.3 L325.7,296.6 L319.7,296.6Z" fill="#A5A5A5"/><path d="M334.8,276.7 L337.8,281.9 L331.8,281.9Z" fill="#A5A5A5"/><path d="M348.6,278.3 L351.6,283.6 L345.6,283.6Z" fill="#A5A5A5"/><path d="M361.5,282.4 L364.5,287.6 L358.5,287.6Z" fill="#A5A5A5"/><path d="M369.7,286.4 L372.7,291.6 L366.7,291.6Z" fill="#A5A5A5"/><path d="M380.0,295.0 L383.0,300.2 L377.0,300.2Z" fill="#A5A5A5"/><path d="M392.4,305.9 L395.4,311.1 L389.4,311.1Z" fill="#A5A5A5"/><path d="M398.9,309.1 L401.9,314.4 L395.9,314.4Z" fill="#A5A5A5"/><path d="M403.0,319.0 L406.0,324.2 L400.0,324.2Z" fill="#A5A5A5"/><path d="M407.3,328.9 L410.3,334.1 L404.3,334.1Z" fill="#A5A5A5"/><path d="M412.8,338.9 L415.8,344.1 L409.8,344.1Z" fill="#A5A5A5"/><path d="M418.2,342.5 L421.2,347.8 L415.2,347.8Z" fill="#A5A5A5"/><path d="M430.5,361.6 L433.5,366.9 L427.5,366.9Z" fill="#A5A5A5"/><path d="M436.4,370.4 L439.4,375.6 L433.4,375.6Z" fill="#A5A5A5"/><path d="M442.8,375.6 L445.8,380.9 L439.8,380.9Z" fill="#A5A5A5"/><path d="M448.6,387.3 L451.6,392.6 L445.6,392.6Z" fill="#A5A5A5"/><path d="M460.9,387.9 L463.9,393.1 L457.9,393.1Z" fill="#A5A5A5"/><path d="M466.7,387.9 L469.7,393.1 L463.7,393.1Z" fill="#A5A5A5"/><path d="M473.2,387.9 L476.2,393.1 L470.2,393.1Z" fill="#A5A5A5"/><path d="M217.6,466.4 C229.5,429.8 232.8,410.2 247.3,375.0 C251.8,364.1 257.1,359.7 265.2,351.3 C268.0,348.4 270.6,348.0 274.4,346.8 C276.3,346.2 278.0,347.8 279.4,346.8 C281.2,345.5 281.3,343.5 282.4,341.2 C283.9,338.0 284.2,336.1 286.0,333.1 C287.1,331.3 288.0,330.5 289.5,329.0 C290.4,328.1 291.3,328.1 292.1,327.1 C294.5,324.4 294.9,322.3 297.5,319.8 C299.8,317.6 301.7,317.4 304.2,315.5 C307.5,312.9 309.0,311.3 312.1,308.5 C317.0,304.1 319.2,301.6 324.3,297.4 C328.1,294.3 330.2,292.8 334.4,290.3 C338.3,288.0 340.3,286.7 344.5,285.2 C347.2,284.3 349.0,283.6 351.6,284.2 C354.3,284.8 355.8,286.1 357.7,288.3 C360.3,291.4 360.2,294.2 362.8,297.4 C365.1,300.3 367.3,300.8 369.8,303.5 C372.5,306.5 373.1,308.7 375.9,311.6 C380.8,316.7 384.0,318.5 389.1,323.4 C391.6,325.8 392.8,327.1 394.8,329.9 C397.2,333.4 397.2,336.3 400.0,339.2 C402.2,341.4 404.7,340.9 407.3,342.8 C409.8,344.6 410.7,346.0 412.8,348.3 C415.1,350.7 415.6,352.6 418.2,354.6 C421.8,357.3 423.9,359.2 428.2,360.1 C434.1,361.4 437.5,359.9 443.7,360.1 C448.0,360.3 450.2,360.8 454.5,361.1 C456.1,361.2 457.0,361.1 458.6,361.1" stroke="#FFC000" stroke-width="1.6" fill="none" stroke-linejoin="round" stroke-linecap="round"/><path d="M215.0,463.8 L220.2,469.0 M220.2,463.8 L215.0,469.0 M217.6,463.3 L217.6,469.5" stroke="#FFC000" stroke-width="1.3" fill="none"/><path d="M244.7,372.4 L249.9,377.6 M249.9,372.4 L244.7,377.6 M247.3,371.9 L247.3,378.1" stroke="#FFC000" stroke-width="1.3" fill="none"/><path d="M262.6,348.7 L267.8,353.9 M267.8,348.7 L262.6,353.9 M265.2,348.2 L265.2,354.4" stroke="#FFC000" stroke-width="1.3" fill="none"/><path d="M271.8,344.2 L277.0,349.4 M277.0,344.2 L271.8,349.4 M274.4,343.7 L274.4,349.9" stroke="#FFC000" stroke-width="1.3" fill="none"/><path d="M276.8,344.2 L282.0,349.4 M282.0,344.2 L276.8,349.4 M279.4,343.7 L279.4,349.9" stroke="#FFC000" stroke-width="1.3" fill="none"/><path d="M279.8,338.6 L285.0,343.8 M285.0,338.6 L279.8,343.8 M282.4,338.1 L282.4,344.3" stroke="#FFC000" stroke-width="1.3" fill="none"/><path d="M283.4,330.5 L288.6,335.7 M288.6,330.5 L283.4,335.7 M286.0,330.0 L286.0,336.2" stroke="#FFC000" stroke-width="1.3" fill="none"/><path d="M286.9,326.4 L292.1,331.6 M292.1,326.4 L286.9,331.6 M289.5,325.9 L289.5,332.1" stroke="#FFC000" stroke-width="1.3" fill="none"/><path d="M289.5,324.5 L294.7,329.7 M294.7,324.5 L289.5,329.7 M292.1,324.0 L292.1,330.2" stroke="#FFC000" stroke-width="1.3" fill="none"/><path d="M294.9,317.2 L300.1,322.4 M300.1,317.2 L294.9,322.4 M297.5,316.7 L297.5,322.9" stroke="#FFC000" stroke-width="1.3" fill="none"/><path d="M301.6,312.9 L306.8,318.1 M306.8,312.9 L301.6,318.1 M304.2,312.4 L304.2,318.6" stroke="#FFC000" stroke-width="1.3" fill="none"/><path d="M331.8,287.7 L337.0,292.9 M337.0,287.7 L331.8,292.9 M334.4,287.2 L334.4,293.4" stroke="#FFC000" stroke-width="1.3" fill="none"/><path d="M349.0,281.6 L354.2,286.8 M354.2,281.6 L349.0,286.8 M351.6,281.1 L351.6,287.3" stroke="#FFC000" stroke-width="1.3" fill="none"/><path d="M360.2,294.8 L365.4,300.0 M365.4,294.8 L360.2,300.0 M362.8,294.3 L362.8,300.5" stroke="#FFC000" stroke-width="1.3" fill="none"/><path d="M367.2,300.9 L372.4,306.1 M372.4,300.9 L367.2,306.1 M369.8,300.4 L369.8,306.6" stroke="#FFC000" stroke-width="1.3" fill="none"/><path d="M373.3,309.0 L378.5,314.2 M378.5,309.0 L373.3,314.2 M375.9,308.5 L375.9,314.7" stroke="#FFC000" stroke-width="1.3" fill="none"/><path d="M386.5,320.8 L391.7,326.0 M391.7,320.8 L386.5,326.0 M389.1,320.3 L389.1,326.5" stroke="#FFC000" stroke-width="1.3" fill="none"/><path d="M392.2,327.3 L397.4,332.5 M397.4,327.3 L392.2,332.5 M394.8,326.8 L394.8,333.0" stroke="#FFC000" stroke-width="1.3" fill="none"/><path d="M397.4,336.6 L402.6,341.8 M402.6,336.6 L397.4,341.8 M400.0,336.1 L400.0,342.3" stroke="#FFC000" stroke-width="1.3" fill="none"/><path d="M404.7,340.2 L409.9,345.4 M409.9,340.2 L404.7,345.4 M407.3,339.7 L407.3,345.9" stroke="#FFC000" stroke-width="1.3" fill="none"/><path d="M410.2,345.7 L415.4,350.9 M415.4,345.7 L410.2,350.9 M412.8,345.2 L412.8,351.4" stroke="#FFC000" stroke-width="1.3" fill="none"/><path d="M415.6,352.0 L420.8,357.2 M420.8,352.0 L415.6,357.2 M418.2,351.5 L418.2,357.7" stroke="#FFC000" stroke-width="1.3" fill="none"/><path d="M425.6,357.5 L430.8,362.7 M430.8,357.5 L425.6,362.7 M428.2,357.0 L428.2,363.2" stroke="#FFC000" stroke-width="1.3" fill="none"/><path d="M441.1,357.5 L446.3,362.7 M446.3,357.5 L441.1,362.7 M443.7,357.0 L443.7,363.2" stroke="#FFC000" stroke-width="1.3" fill="none"/><path d="M451.9,358.5 L457.1,363.7 M457.1,358.5 L451.9,363.7 M454.5,358.0 L454.5,364.2" stroke="#FFC000" stroke-width="1.3" fill="none"/><path d="M456.0,358.5 L461.2,363.7 M461.2,358.5 L456.0,363.7 M458.6,358.0 L458.6,364.2" stroke="#FFC000" stroke-width="1.3" fill="none"/><path d="M217.6,466.4 C218.8,454.6 219.0,448.7 220.5,437.0 C221.4,429.8 221.9,426.1 223.5,419.0 C224.7,413.5 225.6,410.7 227.5,405.4 C229.4,400.0 230.5,397.3 233.2,392.3 C236.0,387.2 238.2,385.0 241.3,380.1 C243.8,376.1 244.9,374.0 247.4,370.0 C250.3,365.3 251.5,362.9 254.7,358.4 C257.4,354.6 258.5,352.1 262.2,349.3 C266.0,346.4 268.7,345.5 273.3,344.2 C278.0,342.9 280.7,343.6 285.5,342.7 C288.8,342.0 290.3,341.1 293.6,340.2 C298.1,338.9 301.0,339.5 305.0,337.1 C313.3,332.1 316.0,326.8 324.3,321.8 C328.3,319.4 331.0,319.6 335.6,318.6 C340.1,317.6 342.6,318.3 347.0,317.0 C352.4,315.4 354.7,313.6 359.9,311.3 C364.4,309.3 366.7,308.3 371.3,306.4 C373.6,305.4 374.6,304.1 377.0,304.0 C379.8,303.8 381.4,304.8 384.3,305.6 C391.5,307.7 395.5,308.2 402.1,311.3 C404.6,312.4 404.5,315.4 407.0,316.2 C413.1,318.2 417.1,317.1 423.7,318.2 C431.0,319.4 434.8,319.9 441.9,321.9 C450.1,324.2 453.7,327.5 461.9,329.1 C468.2,330.3 471.7,328.9 478.3,328.8" stroke="#255E91" stroke-width="1.6" fill="none" stroke-linejoin="round" stroke-linecap="round"/><path d="M215.4,466.4 L219.8,466.4 M217.6,464.2 L217.6,468.6" stroke="#255E91" stroke-width="1.4" fill="none"/><path d="M225.3,405.4 L229.7,405.4 M227.5,403.2 L227.5,407.6" stroke="#255E91" stroke-width="1.4" fill="none"/><path d="M245.2,370.0 L249.6,370.0 M247.4,367.8 L247.4,372.2" stroke="#255E91" stroke-width="1.4" fill="none"/><path d="M260.0,349.3 L264.4,349.3 M262.2,347.1 L262.2,351.5" stroke="#255E91" stroke-width="1.4" fill="none"/><path d="M271.1,344.2 L275.5,344.2 M273.3,342.0 L273.3,346.4" stroke="#255E91" stroke-width="1.4" fill="none"/><path d="M283.3,342.7 L287.7,342.7 M285.5,340.5 L285.5,344.9" stroke="#255E91" stroke-width="1.4" fill="none"/><path d="M291.4,340.2 L295.8,340.2 M293.6,338.0 L293.6,342.4" stroke="#255E91" stroke-width="1.4" fill="none"/><path d="M302.8,337.1 L307.2,337.1 M305.0,334.9 L305.0,339.3" stroke="#255E91" stroke-width="1.4" fill="none"/><path d="M322.1,321.8 L326.5,321.8 M324.3,319.6 L324.3,324.0" stroke="#255E91" stroke-width="1.4" fill="none"/><path d="M333.4,318.6 L337.8,318.6 M335.6,316.4 L335.6,320.8" stroke="#255E91" stroke-width="1.4" fill="none"/><path d="M344.8,317.0 L349.2,317.0 M347.0,314.8 L347.0,319.2" stroke="#255E91" stroke-width="1.4" fill="none"/><path d="M357.7,311.3 L362.1,311.3 M359.9,309.1 L359.9,313.5" stroke="#255E91" stroke-width="1.4" fill="none"/><path d="M369.1,306.4 L373.5,306.4 M371.3,304.2 L371.3,308.6" stroke="#255E91" stroke-width="1.4" fill="none"/><path d="M374.8,304.0 L379.2,304.0 M377.0,301.8 L377.0,306.2" stroke="#255E91" stroke-width="1.4" fill="none"/><path d="M382.1,305.6 L386.5,305.6 M384.3,303.4 L384.3,307.8" stroke="#255E91" stroke-width="1.4" fill="none"/><path d="M399.9,311.3 L404.3,311.3 M402.1,309.1 L402.1,313.5" stroke="#255E91" stroke-width="1.4" fill="none"/><path d="M404.8,316.2 L409.2,316.2 M407.0,314.0 L407.0,318.4" stroke="#255E91" stroke-width="1.4" fill="none"/><path d="M421.5,318.2 L425.9,318.2 M423.7,316.0 L423.7,320.4" stroke="#255E91" stroke-width="1.4" fill="none"/><path d="M439.7,321.9 L444.1,321.9 M441.9,319.7 L441.9,324.1" stroke="#255E91" stroke-width="1.4" fill="none"/><path d="M459.7,329.1 L464.1,329.1 M461.9,326.9 L461.9,331.3" stroke="#255E91" stroke-width="1.4" fill="none"/><path d="M476.1,328.8 L480.5,328.8 M478.3,326.6 L478.3,331.0" stroke="#255E91" stroke-width="1.4" fill="none"/><line x1="337.1" y1="365.7" x2="351.2" y2="365.7" stroke="#5B9BD5" stroke-width="1.6"/><path d="M344.1,362.7 L347.1,365.7 L344.1,368.7 L341.1,365.7Z" fill="#5B9BD5"/><text x="352.3" y="368.8" font-size="9.15" text-anchor="start" font-family="Liberation Serif" font-weight="bold" fill="#000" >L210 2H 8D</text><line x1="337.1" y1="376.7" x2="351.2" y2="376.7" stroke="#666666" stroke-width="1.1"/><rect x="341.6" y="375.5" width="5.0" height="2.4" fill="#666666"/><text x="352.3" y="379.8" font-size="9.15" text-anchor="start" font-family="Liberation Serif" font-weight="bold" fill="#000" >L210 2H 10D</text><line x1="337.1" y1="387.7" x2="351.2" y2="387.7" stroke="#9E480E" stroke-width="1.6"/><text x="352.3" y="390.8" font-size="9.15" text-anchor="start" font-family="Liberation Serif" font-weight="bold" fill="#000" >L210 2H 12D</text><line x1="337.1" y1="398.7" x2="351.2" y2="398.7" stroke="#ED7D31" stroke-width="1.6"/><rect x="341.5" y="396.1" width="5.2" height="5.2" fill="#ED7D31"/><text x="352.3" y="401.8" font-size="9.15" text-anchor="start" font-family="Liberation Serif" font-weight="bold" fill="#000" >L210 4H 8D</text><line x1="337.1" y1="409.7" x2="351.2" y2="409.7" stroke="#4472C4" stroke-width="1.6"/><path d="M341.8,407.3 L346.5,412.1 M346.5,407.3 L341.8,412.1" stroke="#4472C4" stroke-width="1.9" fill="none"/><text x="352.3" y="412.8" font-size="9.15" text-anchor="start" font-family="Liberation Serif" font-weight="bold" fill="#000" >L210 4H 10D</text><line x1="337.1" y1="420.7" x2="351.2" y2="420.7" stroke="#70AD47" stroke-width="1.6"/><circle cx="344.1" cy="420.7" r="2.8" fill="#70AD47"/><text x="352.3" y="423.8" font-size="9.15" text-anchor="start" font-family="Liberation Serif" font-weight="bold" fill="#000" >L210 4H 12D</text><line x1="337.1" y1="431.7" x2="351.2" y2="431.7" stroke="#A5A5A5" stroke-width="1.6"/><path d="M344.1,428.7 L347.1,433.9 L341.1,433.9Z" fill="#A5A5A5"/><text x="352.3" y="434.8" font-size="9.15" text-anchor="start" font-family="Liberation Serif" font-weight="bold" fill="#000" >L210 6H 8D</text><line x1="337.1" y1="442.7" x2="351.2" y2="442.7" stroke="#FFC000" stroke-width="1.6"/><path d="M341.5,440.1 L346.8,445.3 M346.8,440.1 L341.5,445.3 M344.1,439.6 L344.1,445.8" stroke="#FFC000" stroke-width="1.3" fill="none"/><text x="352.3" y="445.8" font-size="9.15" text-anchor="start" font-family="Liberation Serif" font-weight="bold" fill="#000" >L210 6H 10D</text><line x1="337.1" y1="453.7" x2="351.2" y2="453.7" stroke="#255E91" stroke-width="1.6"/><path d="M341.9,453.7 L346.3,453.7 M344.1,451.5 L344.1,455.9" stroke="#255E91" stroke-width="1.4" fill="none"/><text x="352.3" y="456.8" font-size="9.15" text-anchor="start" font-family="Liberation Serif" font-weight="bold" fill="#000" >L210 6H 12D</text></svg></body></html>
